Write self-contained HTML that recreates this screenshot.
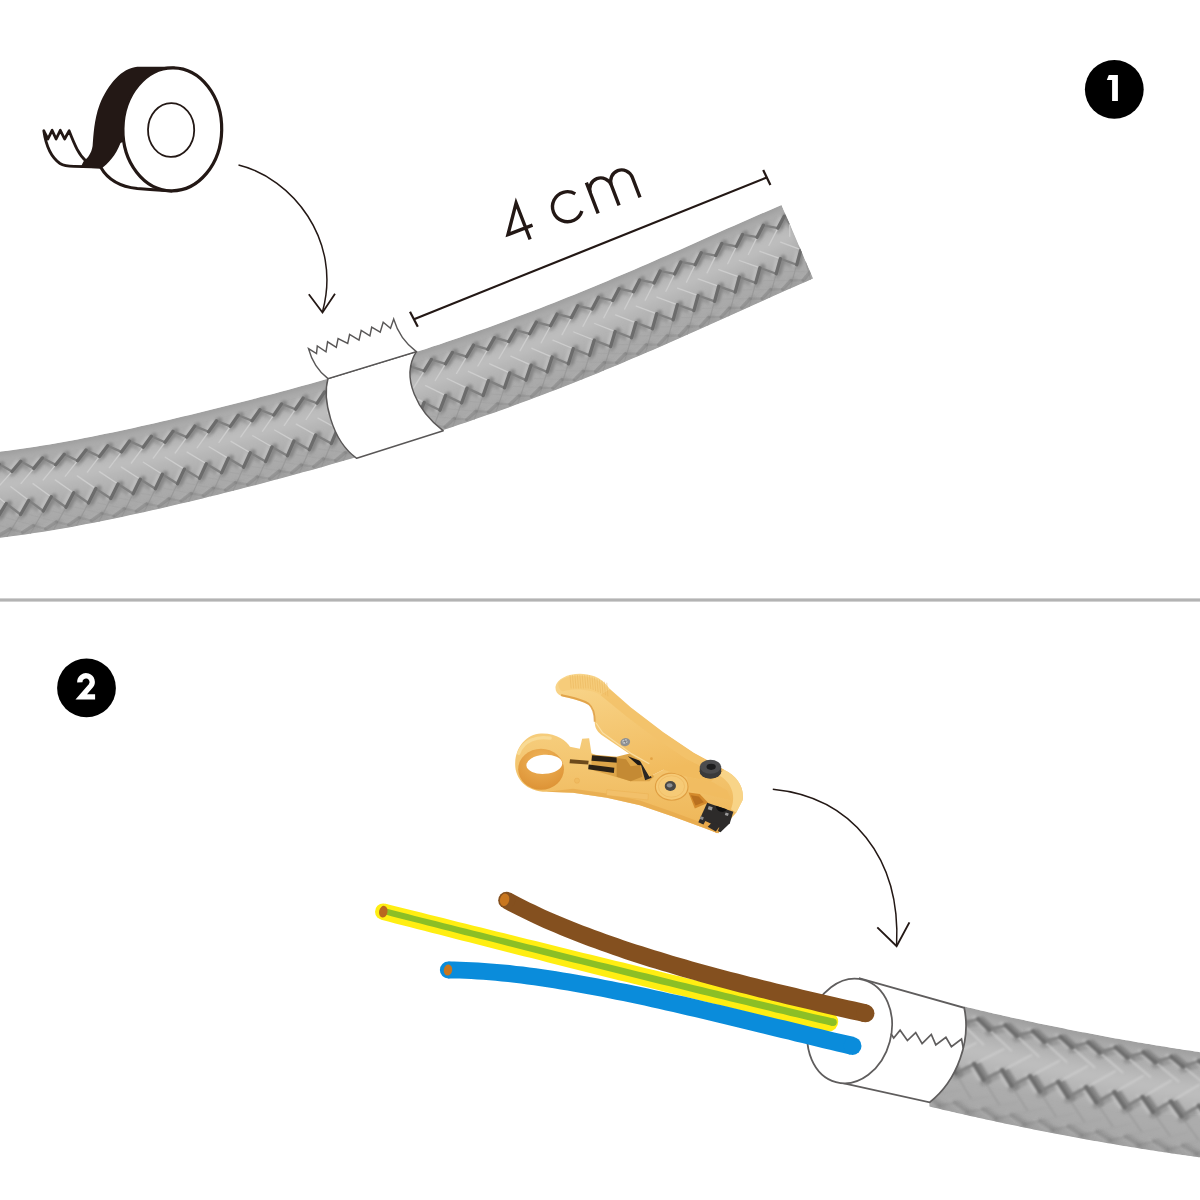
<!DOCTYPE html>
<html><head><meta charset="utf-8"><title>Cable preparation steps</title><style>html,body{margin:0;padding:0;background:#fff;font-family:"Liberation Sans",sans-serif}svg{display:block}</style></head><body><svg width="1200" height="1200" viewBox="0 0 1200 1200" role="img" aria-label="Step 1: wrap tape 4 cm from the cable end. Step 2: strip the sheath to expose the wires."><filter id="blur_c1" x="-5%" y="-20%" width="110%" height="140%"><feGaussianBlur stdDeviation="3.7"/></filter><filter id="blur2_c1" x="-5%" y="-20%" width="110%" height="140%"><feGaussianBlur stdDeviation="1.45"/></filter><filter id="blur3_c1" x="-5%" y="-20%" width="110%" height="140%"><feGaussianBlur stdDeviation="0.54"/></filter><filter id="blur4_c1" x="-5%" y="-20%" width="110%" height="140%"><feGaussianBlur stdDeviation="0.70"/></filter><clipPath id="clip_c1"><path d="M-33.5,455.1 L-26.6,454.6 L-19.7,453.9 L-12.8,453.2 L-5.9,452.5 L1.0,451.6 L7.9,450.8 L14.8,449.8 L21.8,448.8 L28.7,447.8 L35.7,446.7 L42.7,445.6 L49.7,444.4 L56.6,443.2 L63.6,442.0 L70.6,440.7 L77.6,439.4 L84.6,438.1 L91.6,436.7 L98.6,435.3 L105.7,433.8 L112.7,432.4 L119.7,430.9 L126.7,429.4 L133.7,427.9 L140.7,426.3 L147.8,424.7 L154.8,423.2 L161.8,421.6 L168.8,419.9 L175.8,418.3 L182.9,416.6 L189.9,414.9 L196.9,413.3 L203.9,411.5 L210.9,409.8 L217.9,408.1 L224.9,406.3 L231.9,404.6 L238.9,402.8 L245.9,401.0 L252.9,399.2 L259.9,397.3 L266.9,395.5 L273.9,393.7 L280.9,391.8 L287.8,389.9 L294.8,388.0 L301.8,386.1 L308.7,384.2 L315.7,382.2 L322.6,380.3 L329.5,378.3 L336.5,376.3 L343.4,374.3 L350.3,372.3 L357.2,370.2 L364.1,368.2 L371.0,366.1 L377.9,364.0 L384.8,361.9 L391.6,359.8 L398.5,357.6 L405.4,355.5 L412.2,353.3 L419.1,351.1 L425.9,348.9 L432.7,346.6 L439.5,344.4 L446.3,342.1 L453.1,339.8 L459.9,337.5 L466.7,335.1 L473.5,332.7 L480.3,330.3 L487.0,327.9 L493.8,325.5 L500.5,323.1 L507.3,320.6 L514.0,318.1 L520.7,315.6 L527.4,313.0 L534.1,310.5 L540.8,307.9 L547.5,305.3 L554.2,302.7 L560.9,300.0 L567.6,297.3 L574.3,294.7 L580.9,292.0 L587.6,289.2 L594.3,286.5 L600.9,283.7 L607.6,280.9 L614.2,278.1 L620.9,275.3 L627.5,272.5 L634.1,269.7 L640.8,266.8 L647.4,263.9 L654.1,261.0 L660.7,258.1 L667.4,255.2 L674.0,252.3 L680.7,249.4 L687.3,246.4 L694.0,243.5 L700.6,240.5 L707.3,237.5 L714.0,234.6 L720.7,231.6 L727.4,228.6 L734.1,225.7 L740.8,222.7 L747.6,219.7 L754.3,216.8 L761.1,213.8 L767.9,210.9 L774.7,207.9 L781.5,205.0 L813.1,278.5 L806.5,281.4 L799.9,284.3 L793.3,287.2 L786.7,290.1 L780.1,293.1 L773.4,296.1 L766.8,299.0 L760.2,302.0 L753.5,305.0 L746.9,308.0 L740.2,311.0 L733.6,314.0 L726.9,317.0 L720.2,320.1 L713.5,323.1 L706.8,326.1 L700.1,329.1 L693.4,332.1 L686.6,335.1 L679.9,338.1 L673.1,341.0 L666.4,344.0 L659.6,347.0 L652.8,349.9 L646.0,352.8 L639.2,355.7 L632.4,358.6 L625.6,361.5 L618.7,364.4 L611.9,367.3 L605.0,370.1 L598.2,372.9 L591.3,375.7 L584.4,378.5 L577.5,381.2 L570.6,384.0 L563.7,386.7 L556.7,389.4 L549.8,392.1 L542.8,394.7 L535.9,397.3 L528.9,400.0 L521.9,402.5 L515.0,405.1 L508.0,407.7 L501.0,410.2 L494.0,412.7 L487.0,415.1 L479.9,417.6 L472.9,420.0 L465.9,422.4 L458.8,424.8 L451.8,427.2 L444.7,429.5 L437.7,431.9 L430.6,434.2 L423.5,436.4 L416.5,438.7 L409.4,440.9 L402.3,443.2 L395.2,445.4 L388.1,447.5 L381.0,449.7 L373.9,451.9 L366.8,454.0 L359.7,456.1 L352.6,458.2 L345.5,460.2 L338.4,462.3 L331.3,464.3 L324.2,466.4 L317.1,468.4 L309.9,470.4 L302.8,472.3 L295.7,474.3 L288.5,476.2 L281.4,478.2 L274.3,480.1 L267.1,482.0 L260.0,483.9 L252.8,485.7 L245.6,487.6 L238.5,489.4 L231.3,491.3 L224.1,493.1 L217.0,494.9 L209.8,496.6 L202.6,498.4 L195.4,500.2 L188.2,501.9 L181.0,503.6 L173.8,505.3 L166.6,507.0 L159.3,508.7 L152.1,510.3 L144.8,511.9 L137.6,513.6 L130.3,515.1 L123.0,516.7 L115.7,518.2 L108.4,519.8 L101.1,521.2 L93.7,522.7 L86.4,524.1 L79.0,525.5 L71.6,526.9 L64.2,528.2 L56.8,529.5 L49.3,530.8 L41.8,532.0 L34.3,533.1 L26.8,534.3 L19.3,535.3 L11.7,536.3 L4.1,537.3 L-3.5,538.2 L-11.2,539.0 L-18.8,539.8 L-26.5,540.5Z"/></clipPath><g clip-path="url(#clip_c1)"><path d="M-33.5,455.1 L-26.6,454.6 L-19.7,453.9 L-12.8,453.2 L-5.9,452.5 L1.0,451.6 L7.9,450.8 L14.8,449.8 L21.8,448.8 L28.7,447.8 L35.7,446.7 L42.7,445.6 L49.7,444.4 L56.6,443.2 L63.6,442.0 L70.6,440.7 L77.6,439.4 L84.6,438.1 L91.6,436.7 L98.6,435.3 L105.7,433.8 L112.7,432.4 L119.7,430.9 L126.7,429.4 L133.7,427.9 L140.7,426.3 L147.8,424.7 L154.8,423.2 L161.8,421.6 L168.8,419.9 L175.8,418.3 L182.9,416.6 L189.9,414.9 L196.9,413.3 L203.9,411.5 L210.9,409.8 L217.9,408.1 L224.9,406.3 L231.9,404.6 L238.9,402.8 L245.9,401.0 L252.9,399.2 L259.9,397.3 L266.9,395.5 L273.9,393.7 L280.9,391.8 L287.8,389.9 L294.8,388.0 L301.8,386.1 L308.7,384.2 L315.7,382.2 L322.6,380.3 L329.5,378.3 L336.5,376.3 L343.4,374.3 L350.3,372.3 L357.2,370.2 L364.1,368.2 L371.0,366.1 L377.9,364.0 L384.8,361.9 L391.6,359.8 L398.5,357.6 L405.4,355.5 L412.2,353.3 L419.1,351.1 L425.9,348.9 L432.7,346.6 L439.5,344.4 L446.3,342.1 L453.1,339.8 L459.9,337.5 L466.7,335.1 L473.5,332.7 L480.3,330.3 L487.0,327.9 L493.8,325.5 L500.5,323.1 L507.3,320.6 L514.0,318.1 L520.7,315.6 L527.4,313.0 L534.1,310.5 L540.8,307.9 L547.5,305.3 L554.2,302.7 L560.9,300.0 L567.6,297.3 L574.3,294.7 L580.9,292.0 L587.6,289.2 L594.3,286.5 L600.9,283.7 L607.6,280.9 L614.2,278.1 L620.9,275.3 L627.5,272.5 L634.1,269.7 L640.8,266.8 L647.4,263.9 L654.1,261.0 L660.7,258.1 L667.4,255.2 L674.0,252.3 L680.7,249.4 L687.3,246.4 L694.0,243.5 L700.6,240.5 L707.3,237.5 L714.0,234.6 L720.7,231.6 L727.4,228.6 L734.1,225.7 L740.8,222.7 L747.6,219.7 L754.3,216.8 L761.1,213.8 L767.9,210.9 L774.7,207.9 L781.5,205.0 L813.1,278.5 L806.5,281.4 L799.9,284.3 L793.3,287.2 L786.7,290.1 L780.1,293.1 L773.4,296.1 L766.8,299.0 L760.2,302.0 L753.5,305.0 L746.9,308.0 L740.2,311.0 L733.6,314.0 L726.9,317.0 L720.2,320.1 L713.5,323.1 L706.8,326.1 L700.1,329.1 L693.4,332.1 L686.6,335.1 L679.9,338.1 L673.1,341.0 L666.4,344.0 L659.6,347.0 L652.8,349.9 L646.0,352.8 L639.2,355.7 L632.4,358.6 L625.6,361.5 L618.7,364.4 L611.9,367.3 L605.0,370.1 L598.2,372.9 L591.3,375.7 L584.4,378.5 L577.5,381.2 L570.6,384.0 L563.7,386.7 L556.7,389.4 L549.8,392.1 L542.8,394.7 L535.9,397.3 L528.9,400.0 L521.9,402.5 L515.0,405.1 L508.0,407.7 L501.0,410.2 L494.0,412.7 L487.0,415.1 L479.9,417.6 L472.9,420.0 L465.9,422.4 L458.8,424.8 L451.8,427.2 L444.7,429.5 L437.7,431.9 L430.6,434.2 L423.5,436.4 L416.5,438.7 L409.4,440.9 L402.3,443.2 L395.2,445.4 L388.1,447.5 L381.0,449.7 L373.9,451.9 L366.8,454.0 L359.7,456.1 L352.6,458.2 L345.5,460.2 L338.4,462.3 L331.3,464.3 L324.2,466.4 L317.1,468.4 L309.9,470.4 L302.8,472.3 L295.7,474.3 L288.5,476.2 L281.4,478.2 L274.3,480.1 L267.1,482.0 L260.0,483.9 L252.8,485.7 L245.6,487.6 L238.5,489.4 L231.3,491.3 L224.1,493.1 L217.0,494.9 L209.8,496.6 L202.6,498.4 L195.4,500.2 L188.2,501.9 L181.0,503.6 L173.8,505.3 L166.6,507.0 L159.3,508.7 L152.1,510.3 L144.8,511.9 L137.6,513.6 L130.3,515.1 L123.0,516.7 L115.7,518.2 L108.4,519.8 L101.1,521.2 L93.7,522.7 L86.4,524.1 L79.0,525.5 L71.6,526.9 L64.2,528.2 L56.8,529.5 L49.3,530.8 L41.8,532.0 L34.3,533.1 L26.8,534.3 L19.3,535.3 L11.7,536.3 L4.1,537.3 L-3.5,538.2 L-11.2,539.0 L-18.8,539.8 L-26.5,540.5Z" fill="#acacac"/><path d="M-30.5,491.4 L-23.3,490.8 L-16.1,490.1 L-8.9,489.3 L-1.7,488.5 L5.5,487.6 L12.7,486.7 L19.9,485.7 L27.1,484.7 L34.3,483.6 L41.5,482.4 L48.7,481.3 L55.8,480.0 L63.0,478.8 L70.2,477.5 L77.3,476.2 L84.5,474.8 L91.6,473.4 L98.8,472.0 L105.9,470.5 L113.0,469.1 L120.2,467.6 L127.3,466.0 L134.4,464.5 L141.5,462.9 L148.6,461.3 L155.8,459.7 L162.9,458.1 L170.0,456.4 L177.1,454.8 L184.2,453.1 L191.3,451.4 L198.3,449.7 L205.4,447.9 L212.5,446.2 L219.6,444.4 L226.7,442.7 L233.7,440.9 L240.8,439.1 L247.9,437.2 L254.9,435.4 L262.0,433.6 L269.0,431.7 L276.1,429.8 L283.1,427.9 L290.2,426.0 L297.2,424.1 L304.3,422.2 L311.3,420.2 L318.3,418.2 L325.3,416.3 L332.3,414.3 L339.4,412.2 L346.4,410.2 L353.4,408.2 L360.4,406.1 L367.3,404.0 L374.3,401.9 L381.3,399.8 L388.3,397.7 L395.2,395.5 L402.2,393.3 L409.2,391.1 L416.1,388.9 L423.0,386.7 L430.0,384.4 L436.9,382.2 L443.8,379.9 L450.7,377.5 L457.6,375.2 L464.5,372.9 L471.4,370.5 L478.3,368.1 L485.2,365.6 L492.0,363.2 L498.9,360.7 L505.8,358.2 L512.6,355.7 L519.4,353.2 L526.3,350.7 L533.1,348.1 L539.9,345.5 L546.7,342.9 L553.5,340.2 L560.3,337.6 L567.1,334.9 L573.8,332.2 L580.6,329.5 L587.3,326.7 L594.1,324.0 L600.8,321.2 L607.6,318.4 L614.3,315.6 L621.0,312.7 L627.7,309.9 L634.4,307.0 L641.1,304.1 L647.8,301.3 L654.5,298.3 L661.2,295.4 L667.9,292.5 L674.6,289.6 L681.3,286.6 L687.9,283.7 L694.6,280.7 L701.3,277.7 L708.0,274.7 L714.6,271.8 L721.3,268.8 L728.0,265.8 L734.6,262.8 L741.3,259.8 L748.0,256.8 L754.7,253.9 L761.4,250.9 L768.1,248.0 L774.8,245.0 L781.5,242.1 L788.2,239.2 L794.9,236.3" fill="none" stroke="#b6b6b6" stroke-width="33.1" stroke-opacity="0.90" filter="url(#blur_c1)"/><path d="M-30.8,488.4 L-23.6,487.8 L-16.4,487.1 L-9.2,486.4 L-2.0,485.5 L5.2,484.7 L12.3,483.7 L19.5,482.8 L26.7,481.7 L33.8,480.6 L41.0,479.5 L48.2,478.3 L55.3,477.1 L62.5,475.9 L69.6,474.6 L76.8,473.2 L83.9,471.9 L91.0,470.5 L98.2,469.1 L105.3,467.6 L112.4,466.2 L119.5,464.7 L126.7,463.1 L133.8,461.6 L140.9,460.0 L148.0,458.4 L155.1,456.8 L162.2,455.2 L169.3,453.6 L176.4,451.9 L183.5,450.2 L190.6,448.5 L197.6,446.8 L204.7,445.1 L211.8,443.3 L218.9,441.6 L225.9,439.8 L233.0,438.0 L240.1,436.2 L247.1,434.4 L254.2,432.6 L261.2,430.7 L268.3,428.9 L275.3,427.0 L282.4,425.1 L289.4,423.2 L296.4,421.3 L303.5,419.3 L310.5,417.4 L317.5,415.4 L324.5,413.5 L331.5,411.5 L338.5,409.4 L345.5,407.4 L352.5,405.4 L359.5,403.3 L366.5,401.2 L373.5,399.1 L380.5,397.0 L387.4,394.9 L394.4,392.7 L401.3,390.6 L408.3,388.4 L415.2,386.2 L422.1,383.9 L429.1,381.7 L436.0,379.4 L442.9,377.1 L449.8,374.8 L456.7,372.5 L463.6,370.1 L470.5,367.8 L477.3,365.4 L484.2,362.9 L491.1,360.5 L497.9,358.0 L504.8,355.6 L511.6,353.0 L518.4,350.5 L525.2,348.0 L532.1,345.4 L538.9,342.8 L545.7,340.2 L552.4,337.6 L559.2,334.9 L566.0,332.2 L572.8,329.5 L579.5,326.8 L586.3,324.1 L593.0,321.3 L599.7,318.5 L606.5,315.8 L613.2,312.9 L619.9,310.1 L626.6,307.3 L633.3,304.4 L640.0,301.5 L646.7,298.7 L653.4,295.7 L660.1,292.8 L666.8,289.9 L673.5,287.0 L680.1,284.0 L686.8,281.1 L693.5,278.1 L700.1,275.1 L706.8,272.2 L713.5,269.2 L720.2,266.2 L726.8,263.2 L733.5,260.2 L740.2,257.3 L746.9,254.3 L753.5,251.3 L760.2,248.3 L766.9,245.4 L773.6,242.4 L780.4,239.5 L787.1,236.6 L793.8,233.7" fill="none" stroke="#c0c0c0" stroke-width="13.2" stroke-opacity="0.75" filter="url(#blur_c1)"/><path d="M-27.2,531.9 L-19.6,531.3 L-12.0,530.5 L-4.4,529.7 L3.1,528.8 L10.6,527.9 L18.1,526.9 L25.6,525.8 L33.1,524.7 L40.5,523.6 L47.9,522.4 L55.3,521.1 L62.7,519.8 L70.1,518.5 L77.5,517.2 L84.8,515.8 L92.1,514.4 L99.4,512.9 L106.7,511.4 L114.0,509.9 L121.3,508.4 L128.5,506.9 L135.8,505.3 L143.0,503.7 L150.2,502.1 L157.5,500.4 L164.7,498.8 L171.9,497.1 L179.1,495.4 L186.3,493.7 L193.5,492.0 L200.6,490.2 L207.8,488.5 L215.0,486.7 L222.1,484.9 L229.3,483.1 L236.4,481.3 L243.6,479.5 L250.7,477.6 L257.9,475.8 L265.0,473.9 L272.1,472.0 L279.2,470.1 L286.4,468.2 L293.5,466.2 L300.6,464.3 L307.7,462.3 L314.8,460.3 L321.9,458.3 L329.0,456.3 L336.1,454.3 L343.2,452.3 L350.3,450.2 L357.4,448.1 L364.5,446.0 L371.6,443.9 L378.7,441.8 L385.7,439.6 L392.8,437.4 L399.9,435.3 L406.9,433.0 L414.0,430.8 L421.0,428.6 L428.1,426.3 L435.1,424.0 L442.2,421.7 L449.2,419.4 L456.2,417.0 L463.2,414.6 L470.3,412.2 L477.3,409.8 L484.3,407.4 L491.2,404.9 L498.2,402.4 L505.2,399.9 L512.2,397.4 L519.1,394.8 L526.1,392.3 L533.0,389.7 L540.0,387.1 L546.9,384.4 L553.8,381.8 L560.7,379.1 L567.6,376.4 L574.5,373.6 L581.4,370.9 L588.2,368.1 L595.1,365.3 L602.0,362.5 L608.8,359.7 L615.6,356.9 L622.4,354.0 L629.3,351.2 L636.1,348.3 L642.8,345.4 L649.6,342.4 L656.4,339.5 L663.2,336.6 L669.9,333.6 L676.7,330.6 L683.4,327.7 L690.1,324.7 L696.8,321.7 L703.5,318.7 L710.2,315.7 L716.9,312.7 L723.6,309.7 L730.3,306.7 L736.9,303.7 L743.6,300.7 L750.3,297.7 L756.9,294.7 L763.5,291.7 L770.2,288.7 L776.8,285.8 L783.4,282.8 L790.1,279.9 L796.7,276.9 L803.3,274.1 L809.9,271.2" fill="none" stroke="#a8a8a8" stroke-width="16.6" stroke-opacity="0.90" filter="url(#blur_c1)"/><path d="M-33.5,454.7 L-26.6,454.1 L-19.8,453.5 L-12.9,452.8 L-6.0,452.0 L0.9,451.2 L7.8,450.3 L14.8,449.4 L21.7,448.4 L28.7,447.4 L35.6,446.3 L42.6,445.2 L49.6,444.0 L56.6,442.8 L63.6,441.6 L70.5,440.3 L77.5,439.0 L84.5,437.6 L91.5,436.3 L98.6,434.9 L105.6,433.4 L112.6,432.0 L119.6,430.5 L126.6,429.0 L133.6,427.5 L140.7,425.9 L147.7,424.3 L154.7,422.7 L161.7,421.1 L168.7,419.5 L175.7,417.9 L182.8,416.2 L189.8,414.5 L196.8,412.8 L203.8,411.1 L210.8,409.4 L217.8,407.7 L224.8,405.9 L231.8,404.2 L238.8,402.4 L245.8,400.6 L252.8,398.8 L259.8,396.9 L266.8,395.1 L273.8,393.2 L280.8,391.4 L287.7,389.5 L294.7,387.6 L301.6,385.7 L308.6,383.8 L315.5,381.8 L322.5,379.9 L329.4,377.9 L336.3,375.9 L343.3,373.9 L350.2,371.9 L357.1,369.8 L364.0,367.8 L370.9,365.7 L377.8,363.6 L384.7,361.5 L391.5,359.4 L398.4,357.3 L405.2,355.1 L412.1,352.9 L418.9,350.7 L425.8,348.5 L432.6,346.2 L439.4,344.0 L446.2,341.7 L453.0,339.4 L459.8,337.1 L466.6,334.7 L473.4,332.4 L480.1,330.0 L486.9,327.6 L493.6,325.1 L500.4,322.7 L507.1,320.2 L513.9,317.7 L520.6,315.2 L527.3,312.6 L534.0,310.1 L540.7,307.5 L547.4,304.9 L554.1,302.3 L560.8,299.6 L567.4,297.0 L574.1,294.3 L580.8,291.6 L587.4,288.9 L594.1,286.1 L600.8,283.4 L607.4,280.6 L614.1,277.8 L620.7,275.0 L627.3,272.1 L634.0,269.3 L640.6,266.4 L647.3,263.5 L653.9,260.7 L660.6,257.8 L667.2,254.8 L673.8,251.9 L680.5,249.0 L687.1,246.0 L693.8,243.1 L700.5,240.1 L707.2,237.2 L713.8,234.2 L720.5,231.2 L727.2,228.3 L733.9,225.3 L740.7,222.3 L747.4,219.4 L754.2,216.4 L760.9,213.4 L767.7,210.5 L774.5,207.6 L781.4,204.7" fill="none" stroke="#8a8a8a" stroke-width="3.7" stroke-opacity="0.90" filter="url(#blur_c1)"/><path d="M-26.4,541.7 L-18.7,541.0 L-11.0,540.3 L-3.4,539.5 L4.3,538.6 L11.9,537.6 L19.4,536.6 L27.0,535.5 L34.5,534.4 L42.0,533.2 L49.5,532.0 L57.0,530.8 L64.4,529.5 L71.8,528.1 L79.2,526.8 L86.6,525.4 L94.0,524.0 L101.3,522.5 L108.6,521.0 L116.0,519.5 L123.3,517.9 L130.6,516.4 L137.8,514.8 L145.1,513.2 L152.4,511.6 L159.6,509.9 L166.8,508.2 L174.1,506.6 L181.3,504.9 L188.5,503.1 L195.7,501.4 L202.9,499.6 L210.1,497.9 L217.3,496.1 L224.5,494.3 L231.6,492.5 L238.8,490.6 L246.0,488.8 L253.1,486.9 L260.3,485.1 L267.4,483.2 L274.6,481.3 L281.7,479.4 L288.9,477.4 L296.0,475.5 L303.1,473.5 L310.3,471.6 L317.4,469.6 L324.5,467.6 L331.6,465.5 L338.8,463.5 L345.9,461.4 L353.0,459.4 L360.1,457.3 L367.2,455.2 L374.3,453.0 L381.4,450.9 L388.5,448.7 L395.6,446.6 L402.7,444.4 L409.8,442.1 L416.8,439.9 L423.9,437.6 L431.0,435.3 L438.1,433.0 L445.1,430.7 L452.2,428.4 L459.2,426.0 L466.3,423.6 L473.3,421.2 L480.3,418.8 L487.4,416.3 L494.4,413.8 L501.4,411.3 L508.4,408.8 L515.4,406.3 L522.4,403.7 L529.3,401.1 L536.3,398.5 L543.3,395.9 L550.2,393.2 L557.2,390.5 L564.1,387.8 L571.0,385.1 L577.9,382.4 L584.8,379.6 L591.7,376.8 L598.6,374.0 L605.5,371.2 L612.4,368.4 L619.2,365.5 L626.0,362.7 L632.9,359.8 L639.7,356.9 L646.5,354.0 L653.3,351.0 L660.1,348.1 L666.9,345.1 L673.6,342.2 L680.4,339.2 L687.1,336.2 L693.9,333.2 L700.6,330.2 L707.3,327.2 L714.0,324.2 L720.7,321.2 L727.4,318.2 L734.1,315.1 L740.7,312.1 L747.4,309.1 L754.0,306.1 L760.7,303.1 L767.3,300.1 L773.9,297.2 L780.6,294.2 L787.2,291.2 L793.8,288.3 L800.4,285.4 L807.0,282.5 L813.6,279.6" fill="none" stroke="#8a8a8a" stroke-width="2.9" stroke-opacity="0.90" filter="url(#blur_c1)"/><path d="M-26.5,540.5 L-26.3,521.1 M-16.7,539.6 L-3.2,518.8 M6.9,536.9 L19.7,515.9 M30.3,533.8 L42.5,512.5 M53.4,530.1 L65.2,508.6 M76.3,526.0 L87.7,504.4 M99.0,521.7 L110.1,499.9 M121.6,517.0 L132.4,495.2 M144.1,512.1 L154.7,490.3 M166.4,507.0 L176.8,485.1 M188.7,501.8 L198.9,479.8 M210.9,496.4 L221.0,474.4 M233.1,490.8 L243.0,468.8 M255.2,485.1 L265.0,463.1 M277.2,479.3 L286.9,457.2 M299.3,473.3 L308.8,451.2 M321.3,467.2 L330.7,445.0 M343.3,460.9 L352.5,438.7 M365.2,454.5 L374.3,432.2 M387.1,447.9 L396.1,425.6 M409.0,441.1 L417.8,418.8 M430.8,434.1 L439.4,411.7 M452.6,426.9 L461.0,404.5 M474.3,419.5 L482.6,397.1 M496.0,411.9 L504.0,389.4 M517.6,404.1 L525.4,381.6 M539.1,396.1 L546.7,373.5 M560.6,387.9 L567.9,365.3 M581.9,379.5 L589.1,356.8 M603.2,370.9 L610.1,348.2 M624.3,362.1 L631.1,339.3 M645.4,353.1 L652.0,330.4 M666.3,344.0 L672.8,321.3 M687.2,334.9 L693.5,312.1 M707.9,325.6 L714.1,302.9 M728.6,316.3 L734.7,293.6 M749.1,307.0 L755.3,284.4 M769.6,297.8 L775.8,275.2 M790.1,288.6 L796.3,266.2 M810.4,279.7 L806.0,262.0" fill="none" stroke="#9b9b9b" stroke-width="1.24" stroke-opacity="1.00" stroke-linecap="round" filter="url(#blur4_c1)"/><path d="M-28.1,521.5 L-14.3,531.1 M-16.5,520.5 L9.1,528.4 M6.6,517.9 L32.2,525.2 M29.5,514.7 L55.1,521.5 M52.2,511.1 L77.9,517.4 M74.8,507.1 L100.5,513.1 M97.3,502.8 L122.9,508.4 M119.6,498.2 L145.3,503.5 M141.9,493.4 L167.6,498.4 M164.1,488.3 L189.8,493.2 M186.3,483.1 L212.0,487.8 M208.3,477.8 L234.1,482.2 M230.4,472.3 L256.1,476.6 M252.4,466.6 L278.1,470.7 M274.3,460.8 L300.1,464.8 M296.3,454.9 L322.1,458.6 M318.2,448.8 L344.0,452.4 M340.0,442.6 L365.9,445.9 M361.8,436.2 L387.7,439.4 M383.6,429.7 L409.5,432.6 M405.3,423.0 L431.3,425.6 M427.0,416.0 L453.0,418.4 M448.7,408.9 L474.7,411.1 M470.2,401.6 L496.3,403.5 M491.7,394.1 L517.8,395.7 M513.2,386.4 L539.2,387.7 M534.5,378.4 L560.6,379.5 M555.8,370.3 L581.9,371.1 M577.0,361.9 L603.0,362.5 M598.1,353.4 L624.1,353.7 M619.1,344.7 L645.1,344.7 M640.1,335.8 L666.0,335.7 M660.9,326.8 L686.8,326.5 M681.7,317.6 L707.5,317.3 M702.4,308.4 L728.2,308.0 M723.0,299.2 L748.7,298.7 M743.6,289.9 L769.2,289.5 M764.1,280.7 L789.7,280.4 M784.6,271.6 L810.1,271.5 M805.1,262.6 L810.1,271.5" fill="none" stroke="#9b9b9b" stroke-width="1.24" stroke-opacity="0.30" stroke-linecap="round" filter="url(#blur4_c1)"/><path d="M-32.3,469.9 L-31.5,478.8 M-22.3,469.0 L-9.6,476.7 M-0.6,466.7 L12.3,474.1 M21.1,463.8 L34.2,470.9 M42.9,460.4 L56.2,467.3 M64.6,456.7 L78.1,463.3 M86.4,452.6 L100.0,459.0 M108.2,448.2 L121.9,454.4 M130.0,443.6 L143.8,449.7 M151.8,438.8 L165.6,444.7 M173.6,433.7 L187.4,439.5 M195.4,428.5 L209.2,434.2 M217.1,423.2 L231.0,428.8 M238.8,417.7 L252.8,423.2 M260.5,412.1 L274.5,417.5 M282.1,406.4 L296.1,411.6 M303.7,400.5 L317.7,405.6 M325.3,394.4 L339.3,399.5 M346.8,388.2 L360.8,393.2 M368.2,381.9 L382.3,386.7 M389.6,375.4 L403.7,380.1 M410.9,368.7 L425.0,373.2 M432.1,361.8 L446.3,366.2 M453.2,354.7 L467.5,359.0 M474.3,347.5 L488.6,351.6 M495.3,340.0 L509.6,343.9 M516.3,332.3 L530.6,336.1 M537.1,324.4 L551.5,328.1 M557.9,316.3 L572.3,319.8 M578.7,308.0 L593.1,311.4 M599.3,299.6 L613.8,302.8 M619.9,290.9 L634.4,294.0 M640.5,282.1 L655.0,285.1 M661.1,273.2 L675.6,276.1 M681.7,264.1 L696.2,266.9 M702.2,255.0 L716.8,257.8 M722.8,245.8 L737.4,248.6 M743.5,236.7 L758.1,239.4 M764.3,227.5 L778.9,230.3 M785.2,218.5 L790.3,225.4 M-29.0,509.7 L-25.2,522.3 M-16.2,508.6 L-2.0,520.0 M6.5,506.0 L20.9,517.0 M29.1,502.9 L43.7,513.6 M51.6,499.3 L66.4,509.7 M74.0,495.4 L88.9,505.5 M96.3,491.1 L111.4,501.0 M118.6,486.5 L133.7,496.2 M140.7,481.7 L155.9,491.3 M162.8,476.7 L178.1,486.1 M184.9,471.5 L200.2,480.8 M206.9,466.2 L222.3,475.4 M228.9,460.7 L244.3,469.8 M250.8,455.1 L266.3,464.0 M272.7,449.3 L288.2,458.1 M294.5,443.4 L310.1,452.1 M316.4,437.4 L332.0,446.0 M338.2,431.2 L353.8,439.6 M359.9,424.9 L375.6,433.1 M381.6,418.3 L397.4,426.5 M403.2,411.6 L419.1,419.6 M424.8,404.8 L440.8,412.6 M446.4,397.7 L462.4,405.4 M467.8,390.4 L483.9,397.9 M489.3,382.9 L505.4,390.3 M510.6,375.3 L526.8,382.4 M531.8,367.4 L548.1,374.3 M553.0,359.3 L569.3,366.0 M574.1,351.0 L590.5,357.6 M595.1,342.5 L611.5,348.9 M616.1,333.8 L632.5,340.1 M636.9,324.9 L653.4,331.1 M657.7,316.0 L674.2,322.0 M678.4,306.9 L694.9,312.8 M699.1,297.7 L715.5,303.6 M719.7,288.5 L736.1,294.3 M740.3,279.2 L756.7,285.1 M760.8,270.0 L777.2,275.9 M781.4,260.9 L797.7,266.9" fill="none" stroke="#868686" stroke-width="5.38" stroke-opacity="0.55" stroke-linecap="round" filter="url(#blur2_c1)"/><path d="M-28.7,476.0 L-19.6,466.2 M-6.9,473.9 L2.0,463.8 M15.0,471.1 L23.7,460.8 M36.8,467.9 L45.4,457.4 M58.7,464.2 L67.2,453.6 M80.6,460.2 L88.9,449.5 M102.5,455.9 L110.7,445.1 M124.4,451.3 L132.5,440.5 M146.2,446.5 L154.3,435.6 M168.0,441.5 L176.0,430.6 M189.8,436.4 L197.8,425.4 M211.6,431.1 L219.5,420.0 M233.4,425.6 L241.2,414.5 M255.1,420.0 L262.8,408.9 M276.8,414.3 L284.5,403.1 M298.4,408.4 L306.0,397.2 M320.0,402.4 L327.5,391.2 M341.6,396.2 L349.0,385.0 M363.1,389.9 L370.4,378.6 M384.5,383.4 L391.8,372.1 M405.9,376.8 L413.0,365.4 M427.2,369.9 L434.2,358.5 M448.4,362.9 L455.4,351.4 M469.6,355.7 L476.4,344.1 M490.7,348.2 L497.4,336.6 M511.7,340.6 L518.3,328.9 M532.6,332.7 L539.1,321.0 M553.5,324.7 L559.9,312.9 M574.3,316.4 L580.6,304.6 M595.0,308.0 L601.2,296.1 M615.7,299.3 L621.8,287.5 M636.3,290.6 L642.4,278.7 M656.9,281.6 L662.9,269.7 M677.5,272.6 L683.5,260.7 M698.1,263.5 L704.1,251.5 M718.7,254.3 L724.7,242.4 M739.3,245.1 L745.4,233.2 M760.0,236.0 L766.2,224.1 M780.8,226.9 L786.0,215.5 M-22.2,519.5 L-13.4,505.7 M0.8,517.0 L9.3,503.1 M23.7,514.0 L31.8,499.9 M46.5,510.5 L54.3,496.3 M69.1,506.6 L76.6,492.3 M91.5,502.4 L98.9,488.0 M113.9,497.8 L121.1,483.4 M136.2,493.1 L143.2,478.5 M158.4,488.1 L165.3,473.5 M180.5,482.9 L187.3,468.3 M202.6,477.6 L209.3,463.0 M224.7,472.2 L231.3,457.5 M246.7,466.5 L253.2,451.9 M268.6,460.8 L275.1,446.1 M290.6,454.9 L296.9,440.2 M312.4,448.9 L318.7,434.1 M334.3,442.7 L340.5,427.9 M356.1,436.4 L362.2,421.6 M377.9,429.9 L383.8,415.1 M399.6,423.2 L405.5,408.3 M421.3,416.3 L427.0,401.5 M443.0,409.3 L448.5,394.4 M464.5,402.0 L470.0,387.1 M486.1,394.5 L491.4,379.6 M507.5,386.9 L512.7,371.9 M528.9,379.0 L533.9,364.0 M550.1,370.9 L555.0,355.8 M571.3,362.6 L576.1,347.5 M592.5,354.1 L597.1,339.0 M613.5,345.4 L618.0,330.3 M634.4,336.6 L638.8,321.5 M655.3,327.6 L659.6,312.5 M676.0,318.5 L680.3,303.4 M696.8,309.3 L700.9,294.2 M717.4,300.1 L721.5,285.0 M738.0,290.8 L742.1,275.8 M758.5,281.6 L762.7,266.6 M779.1,272.5 L783.3,257.5 M799.6,263.5 L800.8,249.9" fill="none" stroke="#868686" stroke-width="5.38" stroke-opacity="1.00" stroke-linecap="round" filter="url(#blur2_c1)"/><path d="M-27.0,535.3 L-24.2,540.3 M-12.8,534.0 L-0.5,537.8 M10.6,531.3 L22.9,534.8 M33.8,528.1 L46.1,531.3 M56.8,524.3 L69.1,527.4 M79.5,520.2 L91.8,523.1 M102.2,515.8 L114.5,518.5 M124.7,511.1 L137.0,513.7 M147.1,506.2 L159.4,508.7 M169.4,501.1 L181.7,503.5 M191.6,495.9 L203.9,498.1 M213.8,490.5 L226.1,492.6 M235.9,484.9 L248.2,486.9 M258.0,479.2 L270.3,481.1 M280.0,473.3 L292.3,475.2 M302.0,467.4 L314.3,469.1 M324.0,461.2 L336.3,462.9 M345.9,454.9 L358.3,456.5 M367.8,448.5 L380.2,450.0 M389.7,441.9 L402.1,443.2 M411.5,435.1 L423.9,436.3 M433.3,428.1 L445.7,429.2 M455.0,420.9 L467.5,421.9 M476.7,413.5 L489.2,414.4 M498.3,405.9 L510.8,406.6 M519.9,398.1 L532.3,398.7 M541.3,390.0 L553.8,390.5 M562.7,381.8 L575.2,382.2 M584.0,373.4 L596.5,373.6 M605.2,364.7 L617.6,364.9 M626.3,355.9 L638.7,356.0 M647.3,347.0 L659.7,346.9 M668.2,337.9 L680.6,337.8 M689.0,328.7 L701.4,328.5 M709.7,319.5 L722.0,319.2 M730.4,310.2 L742.6,309.9 M750.9,300.9 L763.2,300.7 M771.4,291.7 L783.6,291.5 M791.9,282.6 L804.0,282.5" fill="none" stroke="#868686" stroke-width="5.38" stroke-opacity="0.17" stroke-linecap="round" filter="url(#blur2_c1)"/><path d="M-21.1,537.4 L-9.8,531.1 M2.4,534.9 L13.5,528.4 M25.8,531.8 L36.6,525.0 M48.9,528.3 L59.5,521.3 M71.8,524.3 L82.2,517.1 M94.5,520.0 L104.8,512.7 M117.1,515.4 L127.3,508.0 M139.5,510.5 L149.6,503.1 M161.9,505.5 L171.9,498.0 M184.2,500.3 L194.1,492.7 M206.4,494.9 L216.2,487.3 M228.5,489.4 L238.3,481.7 M250.6,483.7 L260.4,476.0 M272.7,477.9 L282.4,470.1 M294.7,472.0 L304.4,464.1 M316.7,465.9 L326.3,458.0 M338.7,459.6 L348.2,451.7 M360.6,453.2 L370.1,445.2 M382.5,446.7 L392.0,438.6 M404.4,439.9 L413.8,431.8 M426.2,433.0 L435.5,424.7 M447.9,425.9 L457.2,417.5 M469.7,418.5 L478.9,410.1 M491.3,411.0 L500.5,402.5 M512.9,403.2 L522.0,394.7 M534.4,395.3 L543.4,386.6 M555.9,387.1 L564.8,378.4 M577.2,378.7 L586.0,369.9 M598.5,370.1 L607.2,361.3 M619.6,361.4 L628.3,352.5 M640.7,352.5 L649.2,343.5 M661.6,343.4 L670.1,334.4 M682.5,334.3 L690.9,325.2 M703.2,325.0 L711.6,316.0 M723.9,315.7 L732.2,306.7 M744.5,306.5 L752.8,297.4 M765.0,297.2 L773.3,288.2 M785.5,288.1 L793.7,279.1 M805.9,279.1 L810.2,271.9" fill="none" stroke="#868686" stroke-width="5.38" stroke-opacity="0.30" stroke-linecap="round" filter="url(#blur2_c1)"/><path d="M-31.7,476.3 L-25.8,466.7 M-13.2,474.5 L-4.2,464.5 M8.6,472.0 L17.4,461.7 M30.5,468.9 L39.2,458.5 M52.4,465.3 L60.9,454.8 M74.3,461.4 L82.7,450.7 M96.2,457.2 L104.4,446.4 M118.0,452.7 L126.2,441.8 M139.9,447.9 L148.0,437.0 M161.7,443.0 L169.7,432.0 M183.5,437.9 L191.5,426.9 M205.3,432.6 L213.2,421.6 M227.1,427.2 L234.9,416.1 M248.8,421.6 L256.6,410.5 M270.5,415.9 L278.2,404.8 M292.2,410.1 L299.8,399.0 M313.8,404.2 L321.3,393.0 M335.4,398.0 L342.8,386.8 M356.9,391.8 L364.2,380.5 M378.3,385.3 L385.6,374.0 M399.7,378.7 L406.9,367.4 M421.0,371.9 L428.1,360.5 M442.3,364.9 L449.3,353.5 M463.5,357.8 L470.3,346.3 M484.6,350.4 L491.3,338.8 M505.6,342.8 L512.3,331.2 M526.6,335.0 L533.1,323.3 M547.5,327.0 L553.9,315.3 M568.3,318.8 L574.6,307.0 M589.0,310.4 L595.3,298.6 M609.7,301.8 L615.9,290.0 M630.4,293.1 L636.5,281.2 M651.0,284.2 L657.0,272.3 M671.5,275.2 L677.6,263.3 M692.1,266.1 L698.1,254.2 M712.7,257.0 L718.7,245.0 M733.3,247.8 L739.4,235.8 M754.0,238.6 L760.1,226.7 M774.8,229.5 L781.0,217.6 M-28.2,520.0 L-19.9,506.4 M-5.8,517.8 L2.7,503.9 M17.1,515.0 L25.3,500.9 M39.9,511.6 L47.8,497.4 M62.5,507.8 L70.2,493.5 M85.1,503.6 L92.5,489.2 M107.5,499.2 L114.7,484.7 M129.8,494.5 L136.8,480.0 M152.0,489.6 L158.9,475.0 M174.2,484.4 L181.0,469.9 M196.3,479.2 L203.0,464.5 M218.3,473.7 L224.9,459.1 M240.3,468.2 L246.9,453.5 M262.3,462.5 L268.7,447.8 M284.2,456.6 L290.6,441.9 M306.1,450.6 L312.4,435.9 M328.0,444.5 L334.2,429.7 M349.8,438.2 L355.9,423.4 M371.6,431.8 L377.6,417.0 M393.4,425.1 L399.2,410.3 M415.1,418.3 L420.8,403.5 M436.7,411.3 L442.3,396.4 M458.3,404.1 L463.8,389.2 M479.8,396.7 L485.2,381.8 M501.3,389.1 L506.5,374.1 M522.7,381.3 L527.8,366.3 M544.0,373.3 L548.9,358.2 M565.2,365.0 L570.0,349.9 M586.4,356.6 L591.0,341.5 M607.4,348.0 L612.0,332.9 M628.4,339.2 L632.8,324.1 M649.3,330.2 L653.6,315.1 M670.1,321.2 L674.3,306.0 M690.8,312.0 L695.0,296.9 M711.4,302.8 L715.6,287.7 M732.0,293.5 L736.2,278.4 M752.6,284.3 L756.7,269.2 M773.1,275.1 L777.3,260.1 M793.7,266.0 L797.9,251.1" fill="none" stroke="#c6c6c6" stroke-width="3.52" stroke-opacity="0.80" stroke-linecap="round" filter="url(#blur2_c1)"/><path d="M-26.8,537.9 L-16.6,531.8 M-4.3,535.7 L6.8,529.2 M19.0,532.8 L29.9,526.0 M42.2,529.3 L52.9,522.4 M65.2,525.5 L75.6,518.4 M87.9,521.2 L98.3,514.0 M110.6,516.7 L120.8,509.4 M133.0,511.9 L143.2,504.5 M155.4,507.0 L165.5,499.5 M177.7,501.8 L187.7,494.2 M200.0,496.5 L209.8,488.8 M222.1,491.0 L231.9,483.3 M244.2,485.4 L254.0,477.6 M266.3,479.6 L276.0,471.8 M288.3,473.7 L298.0,465.9 M310.3,467.6 L320.0,459.8 M332.3,461.5 L341.9,453.5 M354.2,455.1 L363.8,447.1 M376.2,448.6 L385.7,440.5 M398.0,441.9 L407.5,433.7 M419.9,435.0 L429.3,426.8 M441.7,427.9 L451.0,419.6 M463.4,420.7 L472.6,412.3 M485.1,413.2 L494.3,404.7 M506.7,405.5 L515.8,396.9 M528.2,397.6 L537.2,389.0 M549.7,389.5 L558.6,380.8 M571.1,381.2 L579.9,372.4 M592.3,372.6 L601.1,363.8 M613.5,363.9 L622.2,355.0 M634.6,355.1 L643.2,346.1 M655.6,346.1 L664.1,337.0 M676.4,336.9 L684.9,327.9 M697.2,327.7 L705.6,318.6 M717.9,318.4 L726.3,309.4 M738.5,309.1 L746.8,300.1 M759.1,299.9 L767.4,290.9 M779.5,290.7 L787.8,281.7 M800.0,281.6 L808.3,272.8" fill="none" stroke="#c6c6c6" stroke-width="3.52" stroke-opacity="0.24" stroke-linecap="round" filter="url(#blur2_c1)"/><path d="M-23.3,488.6 L-11.3,475.7 M-1.1,486.3 L10.6,473.1 M21.1,483.4 L32.5,469.9 M43.2,480.0 L54.4,466.3 M65.3,476.2 L76.3,462.4 M87.4,472.1 L98.2,458.1 M109.4,467.6 L120.1,453.6 M131.4,463.0 L142.0,448.8 M153.3,458.1 L163.8,443.9 M175.2,453.0 L185.7,438.7 M197.1,447.8 L207.5,433.4 M219.0,442.4 L229.2,428.0 M240.8,436.9 L251.0,422.4 M262.6,431.2 L272.7,416.7 M284.3,425.4 L294.3,410.9 M306.1,419.5 L315.9,404.9 M327.7,413.4 L337.5,398.8 M349.3,407.2 L359.0,392.5 M370.9,400.8 L380.5,386.0 M392.4,394.2 L401.9,379.4 M413.9,387.4 L423.2,372.6 M435.3,380.5 L444.4,365.6 M456.6,373.4 L465.6,358.4 M477.9,366.0 L486.7,351.0 M499.0,358.5 L507.8,343.4 M520.1,350.7 L528.7,335.6 M541.2,342.8 L549.6,327.5 M562.1,334.6 L570.5,319.3 M583.0,326.3 L591.2,310.9 M603.8,317.7 L611.9,302.3 M624.6,309.0 L632.6,293.6 M645.2,300.2 L653.2,284.7 M665.9,291.2 L673.7,275.6 M686.5,282.1 L694.3,266.5 M707.1,272.9 L714.9,257.4 M727.7,263.7 L735.5,248.2 M748.3,254.5 L756.2,239.0 M769.0,245.3 L777.0,229.9 M789.7,236.3 L789.8,224.4 M-30.5,491.2 L-17.9,504.9 M-11.4,489.4 L4.7,502.4 M10.9,486.7 L27.3,499.3 M33.0,483.6 L49.7,495.8 M55.2,479.9 L72.1,491.8 M77.3,475.9 L94.3,487.6 M99.4,471.6 L116.5,483.0 M121.4,467.1 L138.7,478.3 M143.4,462.3 L160.8,473.3 M165.3,457.3 L182.8,468.1 M187.2,452.1 L204.8,462.8 M209.1,446.8 L226.7,457.4 M231.0,441.4 L248.6,451.8 M252.8,435.7 L270.5,446.0 M274.6,430.0 L292.3,440.1 M296.3,424.1 L314.1,434.1 M318.0,418.1 L335.9,428.0 M339.7,411.9 L357.6,421.6 M361.3,405.6 L379.3,415.1 M382.8,399.1 L400.9,408.5 M404.3,392.4 L422.5,401.6 M425.7,385.6 L444.0,394.6 M447.1,378.5 L465.4,387.3 M468.4,371.3 L486.8,379.9 M489.7,363.8 L508.1,372.2 M510.8,356.2 L529.4,364.4 M531.9,348.3 L550.5,356.3 M552.9,340.2 L571.6,348.0 M573.8,332.0 L592.6,339.5 M594.7,323.5 L613.5,330.9 M615.5,314.9 L634.3,322.1 M636.2,306.1 L655.1,313.1 M656.9,297.1 L675.8,304.1 M677.5,288.1 L696.4,294.9 M698.1,278.9 L717.0,285.7 M718.7,269.7 L737.6,276.4 M739.3,260.5 L758.2,267.2 M759.9,251.3 L778.8,258.1 M780.6,242.2 L799.4,249.1" fill="none" stroke="#cdcdcd" stroke-width="1.32" stroke-opacity="1.00" stroke-linecap="round" filter="url(#blur4_c1)"/><path d="M-32.5,467.3 L-31.7,476.3 M-22.6,466.4 L-9.9,474.2 M-0.9,464.1 L12.0,471.5 M20.7,461.3 L33.8,468.4 M42.4,457.9 L55.7,464.7 M64.2,454.2 L77.6,460.8 M86.0,450.1 L99.5,456.5 M107.7,445.7 L121.4,451.9 M129.5,441.1 L143.2,447.2 M151.3,436.3 L165.0,442.2 M173.0,431.3 L186.8,437.1 M194.8,426.1 L208.6,431.8 M216.5,420.8 L230.4,426.4 M238.2,415.3 L252.1,420.8 M259.9,409.7 L273.8,415.1 M281.5,403.9 L295.5,409.2 M303.1,398.1 L317.1,403.2 M324.6,392.0 L338.6,397.1 M346.1,385.9 L360.1,390.8 M367.5,379.5 L381.6,384.3 M388.8,373.0 L402.9,377.7 M410.1,366.3 L424.3,370.9 M431.3,359.5 L445.5,363.9 M452.4,352.4 L466.7,356.7 M473.5,345.1 L487.8,349.3 M494.5,337.7 L508.8,341.6 M515.4,330.0 L529.7,333.8 M536.3,322.1 L550.6,325.8 M557.0,314.1 L571.4,317.6 M577.7,305.8 L592.2,309.1 M598.4,297.3 L612.8,300.5 M619.0,288.7 L633.5,291.8 M639.6,279.9 L654.1,282.9 M660.1,271.0 L674.7,273.9 M680.7,261.9 L695.2,264.7 M701.2,252.8 L715.8,255.6 M721.8,243.6 L736.4,246.4 M742.5,234.5 L757.1,237.2 M763.3,225.3 L777.9,228.1 M784.2,216.3 L789.3,223.2 M-29.2,507.2 L-25.4,519.7 M-16.5,506.0 L-2.3,517.4 M6.2,503.5 L20.6,514.5 M28.7,500.4 L43.3,511.0 M51.2,496.8 L66.0,507.2 M73.6,492.8 L88.5,503.0 M95.8,488.6 L110.8,498.5 M118.0,484.0 L133.1,493.7 M140.2,479.2 L155.4,488.8 M162.3,474.2 L177.5,483.7 M184.3,469.1 L199.6,478.4 M206.3,463.7 L221.6,472.9 M228.3,458.3 L243.6,467.3 M250.2,452.7 L265.6,461.6 M272.0,446.9 L287.5,455.7 M293.9,441.0 L309.4,449.7 M315.7,435.0 L331.3,443.6 M337.5,428.8 L353.1,437.2 M359.2,422.5 L374.9,430.8 M380.9,416.0 L396.7,424.1 M402.5,409.3 L418.3,417.3 M424.1,402.4 L440.0,410.2 M445.6,395.4 L461.6,403.0 M467.0,388.1 L483.1,395.6 M488.4,380.6 L504.5,387.9 M509.7,372.9 L525.9,380.1 M531.0,365.1 L547.2,372.0 M552.1,357.0 L568.4,363.8 M573.2,348.7 L589.6,355.3 M594.2,340.2 L610.6,346.6 M615.1,331.5 L631.5,337.8 M636.0,322.7 L652.4,328.9 M656.7,313.7 L673.2,319.8 M677.4,304.7 L693.9,310.6 M698.1,295.5 L714.6,301.4 M718.7,286.3 L735.2,292.1 M739.3,277.0 L755.7,282.9 M759.9,267.8 L776.2,273.7 M780.4,258.7 L796.8,264.7" fill="none" stroke="#808080" stroke-width="2.28" stroke-opacity="1.00" stroke-linecap="round" filter="url(#blur4_c1)"/><path d="M-27.2,532.8 L-24.4,537.7 M-13.1,531.5 L-0.8,535.3 M10.3,528.8 L22.6,532.3 M33.4,525.5 L45.7,528.8 M56.3,521.8 L68.6,524.8 M79.1,517.7 L91.4,520.6 M101.7,513.3 L114.0,516.0 M124.2,508.7 L136.4,511.2 M146.5,503.8 L158.8,506.2 M168.8,498.7 L181.1,501.0 M191.0,493.4 L203.3,495.6 M213.2,488.0 L225.5,490.1 M235.3,482.5 L247.6,484.5 M257.3,476.8 L269.6,478.7 M279.4,470.9 L291.7,472.8 M301.3,464.9 L313.7,466.7 M323.3,458.8 L335.6,460.5 M345.2,452.5 L357.6,454.1 M367.1,446.1 L379.5,447.6 M389.0,439.5 L401.3,440.9 M410.8,432.7 L423.2,434.0 M432.5,425.7 L445.0,426.9 M454.3,418.5 L466.7,419.6 M475.9,411.2 L488.4,412.0 M497.5,403.6 L510.0,404.3 M519.0,395.7 L531.5,396.4 M540.5,387.7 L552.9,388.2 M561.8,379.5 L574.3,379.9 M583.1,371.1 L595.5,371.3 M604.3,362.5 L616.7,362.6 M625.4,353.7 L637.8,353.7 M646.3,344.7 L658.7,344.7 M667.2,335.7 L679.6,335.5 M688.0,326.5 L700.4,326.3 M708.8,317.2 L721.1,317.0 M729.4,308.0 L741.7,307.7 M750.0,298.7 L762.2,298.5 M770.5,289.5 L782.6,289.3 M790.9,280.4 L803.0,280.3" fill="none" stroke="#808080" stroke-width="2.28" stroke-opacity="0.30" stroke-linecap="round" filter="url(#blur4_c1)"/><path d="M-31.7,476.3 L-22.6,466.4 M-9.9,474.2 L-0.9,464.1 M12.0,471.5 L20.7,461.3 M33.8,468.4 L42.4,457.9 M55.7,464.7 L64.2,454.2 M77.6,460.8 L86.0,450.1 M99.5,456.5 L107.7,445.7 M121.4,451.9 L129.5,441.1 M143.2,447.2 L151.3,436.3 M165.0,442.2 L173.0,431.3 M186.8,437.1 L194.8,426.1 M208.6,431.8 L216.5,420.8 M230.4,426.4 L238.2,415.3 M252.1,420.8 L259.9,409.7 M273.8,415.1 L281.5,403.9 M295.5,409.2 L303.1,398.1 M317.1,403.2 L324.6,392.0 M338.6,397.1 L346.1,385.9 M360.1,390.8 L367.5,379.5 M381.6,384.3 L388.8,373.0 M402.9,377.7 L410.1,366.3 M424.3,370.9 L431.3,359.5 M445.5,363.9 L452.4,352.4 M466.7,356.7 L473.5,345.1 M487.8,349.3 L494.5,337.7 M508.8,341.6 L515.4,330.0 M529.7,333.8 L536.3,322.1 M550.6,325.8 L557.0,314.1 M571.4,317.6 L577.7,305.8 M592.2,309.1 L598.4,297.3 M612.8,300.5 L619.0,288.7 M633.5,291.8 L639.6,279.9 M654.1,282.9 L660.1,271.0 M674.7,273.9 L680.7,261.9 M695.2,264.7 L701.2,252.8 M715.8,255.6 L721.8,243.6 M736.4,246.4 L742.5,234.5 M757.1,237.2 L763.3,225.3 M777.9,228.1 L784.2,216.3 M-25.4,519.7 L-16.5,506.0 M-2.3,517.4 L6.2,503.5 M20.6,514.5 L28.7,500.4 M43.3,511.0 L51.2,496.8 M66.0,507.2 L73.6,492.8 M88.5,503.0 L95.8,488.6 M110.8,498.5 L118.0,484.0 M133.1,493.7 L140.2,479.2 M155.4,488.8 L162.3,474.2 M177.5,483.7 L184.3,469.1 M199.6,478.4 L206.3,463.7 M221.6,472.9 L228.3,458.3 M243.6,467.3 L250.2,452.7 M265.6,461.6 L272.0,446.9 M287.5,455.7 L293.9,441.0 M309.4,449.7 L315.7,435.0 M331.3,443.6 L337.5,428.8 M353.1,437.2 L359.2,422.5 M374.9,430.8 L380.9,416.0 M396.7,424.1 L402.5,409.3 M418.3,417.3 L424.1,402.4 M440.0,410.2 L445.6,395.4 M461.6,403.0 L467.0,388.1 M483.1,395.6 L488.4,380.6 M504.5,387.9 L509.7,372.9 M525.9,380.1 L531.0,365.1 M547.2,372.0 L552.1,357.0 M568.4,363.8 L573.2,348.7 M589.6,355.3 L594.2,340.2 M610.6,346.6 L615.1,331.5 M631.5,337.8 L636.0,322.7 M652.4,328.9 L656.7,313.7 M673.2,319.8 L677.4,304.7 M693.9,310.6 L698.1,295.5 M714.6,301.4 L718.7,286.3 M735.2,292.1 L739.3,277.0 M755.7,282.9 L759.9,267.8 M776.2,273.7 L780.4,258.7 M796.8,264.7 L800.8,249.9" fill="none" stroke="#6c6c6c" stroke-width="3.31" stroke-opacity="1.00" stroke-linecap="round" filter="url(#blur4_c1)"/><path d="M-24.4,537.7 L-13.1,531.5 M-0.8,535.3 L10.3,528.8 M22.6,532.3 L33.4,525.5 M45.7,528.8 L56.3,521.8 M68.6,524.8 L79.1,517.7 M91.4,520.6 L101.7,513.3 M114.0,516.0 L124.2,508.7 M136.4,511.2 L146.5,503.8 M158.8,506.2 L168.8,498.7 M181.1,501.0 L191.0,493.4 M203.3,495.6 L213.2,488.0 M225.5,490.1 L235.3,482.5 M247.6,484.5 L257.3,476.8 M269.6,478.7 L279.4,470.9 M291.7,472.8 L301.3,464.9 M313.7,466.7 L323.3,458.8 M335.6,460.5 L345.2,452.5 M357.6,454.1 L367.1,446.1 M379.5,447.6 L389.0,439.5 M401.3,440.9 L410.8,432.7 M423.2,434.0 L432.5,425.7 M445.0,426.9 L454.3,418.5 M466.7,419.6 L475.9,411.2 M488.4,412.0 L497.5,403.6 M510.0,404.3 L519.0,395.7 M531.5,396.4 L540.5,387.7 M552.9,388.2 L561.8,379.5 M574.3,379.9 L583.1,371.1 M595.5,371.3 L604.3,362.5 M616.7,362.6 L625.4,353.7 M637.8,353.7 L646.3,344.7 M658.7,344.7 L667.2,335.7 M679.6,335.5 L688.0,326.5 M700.4,326.3 L708.8,317.2 M721.1,317.0 L729.4,308.0 M741.7,307.7 L750.0,298.7 M762.2,298.5 L770.5,289.5 M782.6,289.3 L790.9,280.4 M803.0,280.3 L810.2,271.9" fill="none" stroke="#6c6c6c" stroke-width="3.31" stroke-opacity="0.30" stroke-linecap="round" filter="url(#blur4_c1)"/></g>
<path d="M328.0,378.6 C322.5,398 331,440 356.7,458.3 L443.3,430.8 C418,412 400,378 416.3,351.6 Z" fill="#fff" stroke="#595757" stroke-width="1.45" stroke-linejoin="round"/>
<path d="M328.0,378.6 C319.5,372.2 311.9,361.3 308.5,348.6 L316.5,353.5 L317.3,346.0 L326.0,351.8 L327.6,341.8 L336.3,347.3 L338.1,338.6 L347.7,343.5 L349.6,334.5 L359.0,340.2 L361.2,330.5 L369.9,335.9 L371.7,327.2 L380.2,332.1 L383.2,322.3 L390.5,328.3 L393.7,319.1 C397.5,332.1 406.2,344 416.3,351.6 Z" fill="#fff" stroke="#595757" stroke-width="1.45" stroke-linejoin="miter"/>
<g stroke="#231815" stroke-width="2.2" fill="none"><path d="M414.0,319.2 L766.7,177.5"/><path d="M410.0,311.8 L417.8,326.8"/><path d="M763.2,170.0 L770.4,185.0"/></g>
<path d="M238.5,165 C292,178 342,240 322.7,311" fill="none" stroke="#231815" stroke-width="1.5"/>
<path d="M308.8,294.2 L322.5,312.5 L335,293.8" fill="none" stroke="#231815" stroke-width="1.8" stroke-linejoin="miter"/>
<g aria-label="4 cm" transform="translate(530,239.2) rotate(-21)" fill="none" stroke="#231815" stroke-width="3.4" stroke-linejoin="miter" stroke-miterlimit="10"><path d="M0,0.3 L0,-38.8 L-18.9,-12.2 L7.4,-12.2"/><path d="M58.5,-26.1 A15,15 0 1 0 58.5,-7.7"/><path d="M72.9,0.3 L72.9,-32.6 M72.9,-21 A11.2,11.6 0 0 1 95.3,-21 L95.3,0.3 M95.3,-21 A11.2,11.6 0 0 1 117.7,-21 L117.7,0.3"/></g>
<path d="M86,161 C79,155 75,146 69.1,130.8 L64.6,139 L60.3,130.3 L56.1,139 L52.1,130.3 L47.9,139 L43.8,130.8 C46,146 52,158 60,163.5 C64,166 69,166.3 74,166.3 L100.7,167.0" fill="#fff" stroke="#231815" stroke-width="2.8" stroke-linejoin="round" stroke-linecap="round"/><path d="M175,66.8 L137.3,66.8 C122,68 108,84 99.5,105 C94,120 93.5,135 92.6,146 C91.5,153 88,158 83.5,161.5 L80.5,167.6 L101.5,168.4 C108,164 116,155 120.5,143 L150,130 L175,80 Z" fill="#231815"/><path d="M100.7,167.2 C108,180 122,186.9 137.3,188.5 L150,189.5 L172.3,190.9" fill="none" stroke="#231815" stroke-width="3.1"/><ellipse cx="172.3" cy="129.3" rx="49.4" ry="61.5" transform="rotate(1 172.3 129.3)" fill="#fff" stroke="#231815" stroke-width="3.2"/><ellipse cx="171.1" cy="130.0" rx="23.1" ry="26.9" transform="rotate(1 171.1 130)" fill="#fff" stroke="#231815" stroke-width="1.8"/>
<circle cx="1114.3" cy="89.4" r="29.4" fill="#000"/>
<path transform="translate(1114.3,89.4)" d="M-5.5,-14.5 L3.6,-14.5 L3.6,11.6 L-2.2,11.6 L-2.2,-9.4 L-7.5,-9.4 Z" fill="#fff"/>
<circle cx="86.5" cy="687.9" r="29.4" fill="#000"/>
<path transform="translate(86.5,687.9)" d="M-6.7,-5.6 A6.2,6.2 0 1 1 4.3,-2.0 L-5.2,8.9 L8.6,8.9" fill="none" stroke="#fff" stroke-width="5.3" stroke-linejoin="miter" stroke-miterlimit="3"/>
<rect x="0" y="598.4" width="1200" height="3.2" fill="#b3b3b3"/>
<clipPath id="c2right"><path d="M964.2,1007.8 C971,1040 958,1080 929.6,1102.4 L929.6,1250 L1300,1250 L1300,900 L964.2,900 Z"/></clipPath>
<filter id="blur_c2" x="-5%" y="-20%" width="110%" height="140%"><feGaussianBlur stdDeviation="4.7"/></filter><filter id="blur2_c2" x="-5%" y="-20%" width="110%" height="140%"><feGaussianBlur stdDeviation="1.84"/></filter><filter id="blur3_c2" x="-5%" y="-20%" width="110%" height="140%"><feGaussianBlur stdDeviation="0.68"/></filter><filter id="blur4_c2" x="-5%" y="-20%" width="110%" height="140%"><feGaussianBlur stdDeviation="0.89"/></filter><clipPath id="clip_c2"><path d="M942.6,1001.3 L945.1,1001.9 L947.7,1002.5 L950.2,1003.1 L952.7,1003.8 L955.3,1004.4 L957.8,1005.0 L960.3,1005.6 L962.8,1006.2 L965.4,1006.8 L967.9,1007.4 L970.4,1008.0 L973.0,1008.6 L975.5,1009.2 L978.0,1009.8 L980.5,1010.4 L983.1,1011.0 L985.6,1011.6 L988.1,1012.2 L990.7,1012.8 L993.2,1013.4 L995.8,1013.9 L998.3,1014.5 L1000.8,1015.1 L1003.4,1015.7 L1005.9,1016.2 L1008.4,1016.8 L1011.0,1017.4 L1013.5,1017.9 L1016.1,1018.5 L1018.6,1019.0 L1021.1,1019.6 L1023.7,1020.1 L1026.2,1020.7 L1028.8,1021.2 L1031.3,1021.8 L1033.8,1022.3 L1036.4,1022.9 L1038.9,1023.4 L1041.5,1023.9 L1044.0,1024.5 L1046.6,1025.0 L1049.1,1025.5 L1051.7,1026.1 L1054.2,1026.6 L1056.8,1027.1 L1059.3,1027.6 L1061.9,1028.1 L1064.4,1028.6 L1066.9,1029.2 L1069.5,1029.7 L1072.1,1030.2 L1074.6,1030.7 L1077.2,1031.2 L1079.7,1031.7 L1082.3,1032.2 L1084.8,1032.6 L1087.4,1033.1 L1089.9,1033.6 L1092.5,1034.1 L1095.0,1034.6 L1097.6,1035.1 L1100.1,1035.5 L1102.7,1036.0 L1105.2,1036.5 L1107.8,1037.0 L1110.4,1037.4 L1112.9,1037.9 L1115.5,1038.4 L1118.0,1038.8 L1120.6,1039.3 L1123.2,1039.7 L1125.7,1040.2 L1128.3,1040.6 L1130.8,1041.1 L1133.4,1041.5 L1136.0,1042.0 L1138.5,1042.4 L1141.1,1042.8 L1143.6,1043.3 L1146.2,1043.7 L1148.8,1044.1 L1151.3,1044.6 L1153.9,1045.0 L1156.5,1045.4 L1159.0,1045.8 L1161.6,1046.2 L1164.2,1046.6 L1166.7,1047.1 L1169.3,1047.5 L1171.9,1047.9 L1174.4,1048.3 L1177.0,1048.7 L1179.6,1049.1 L1182.1,1049.5 L1184.7,1049.9 L1187.3,1050.3 L1189.8,1050.6 L1192.4,1051.0 L1195.0,1051.4 L1197.6,1051.8 L1200.1,1052.2 L1202.7,1052.5 L1205.3,1052.9 L1207.8,1053.3 L1210.4,1053.6 L1213.0,1054.0 L1215.6,1054.4 L1218.1,1054.7 L1220.7,1055.1 L1223.3,1055.4 L1225.9,1055.8 L1228.4,1056.1 L1231.0,1056.5 L1233.6,1056.8 L1236.2,1057.2 L1238.7,1057.5 L1241.3,1057.8 L1243.9,1058.2 L1246.5,1058.5 L1233.5,1161.7 L1230.8,1161.4 L1228.2,1161.0 L1225.5,1160.7 L1222.8,1160.4 L1220.1,1160.0 L1217.4,1159.7 L1214.8,1159.3 L1212.1,1159.0 L1209.4,1158.6 L1206.7,1158.3 L1204.0,1157.9 L1201.4,1157.5 L1198.7,1157.2 L1196.0,1156.8 L1193.3,1156.4 L1190.6,1156.1 L1188.0,1155.7 L1185.3,1155.3 L1182.6,1154.9 L1179.9,1154.5 L1177.3,1154.2 L1174.6,1153.8 L1171.9,1153.4 L1169.2,1153.0 L1166.6,1152.6 L1163.9,1152.2 L1161.2,1151.8 L1158.5,1151.4 L1155.9,1151.0 L1153.2,1150.6 L1150.5,1150.2 L1147.8,1149.7 L1145.2,1149.3 L1142.5,1148.9 L1139.8,1148.5 L1137.2,1148.1 L1134.5,1147.6 L1131.8,1147.2 L1129.2,1146.8 L1126.5,1146.3 L1123.8,1145.9 L1121.2,1145.4 L1118.5,1145.0 L1115.8,1144.5 L1113.2,1144.1 L1110.5,1143.6 L1107.8,1143.2 L1105.2,1142.7 L1102.5,1142.3 L1099.8,1141.8 L1097.2,1141.3 L1094.5,1140.9 L1091.9,1140.4 L1089.2,1139.9 L1086.5,1139.5 L1083.9,1139.0 L1081.2,1138.5 L1078.6,1138.0 L1075.9,1137.5 L1073.2,1137.0 L1070.6,1136.5 L1067.9,1136.0 L1065.3,1135.5 L1062.6,1135.0 L1059.9,1134.5 L1057.3,1134.0 L1054.6,1133.5 L1052.0,1133.0 L1049.3,1132.5 L1046.7,1132.0 L1044.0,1131.5 L1041.4,1131.0 L1038.7,1130.4 L1036.1,1129.9 L1033.4,1129.4 L1030.8,1128.8 L1028.1,1128.3 L1025.5,1127.8 L1022.8,1127.2 L1020.2,1126.7 L1017.5,1126.1 L1014.9,1125.6 L1012.2,1125.1 L1009.6,1124.5 L1006.9,1123.9 L1004.3,1123.4 L1001.7,1122.8 L999.0,1122.3 L996.4,1121.7 L993.7,1121.1 L991.1,1120.6 L988.5,1120.0 L985.8,1119.4 L983.2,1118.8 L980.5,1118.3 L977.9,1117.7 L975.3,1117.1 L972.6,1116.5 L970.0,1115.9 L967.3,1115.3 L964.7,1114.7 L962.1,1114.1 L959.4,1113.5 L956.8,1112.9 L954.2,1112.3 L951.5,1111.7 L948.9,1111.1 L946.3,1110.5 L943.6,1109.9 L941.0,1109.3 L938.4,1108.6 L935.8,1108.0 L933.1,1107.4 L930.5,1106.8 L927.9,1106.1 L925.3,1105.5 L922.6,1104.9 L920.0,1104.2 L917.4,1103.6Z"/></clipPath><g clip-path="url(#c2right)"><g clip-path="url(#clip_c2)"><path d="M942.6,1001.3 L945.1,1001.9 L947.7,1002.5 L950.2,1003.1 L952.7,1003.8 L955.3,1004.4 L957.8,1005.0 L960.3,1005.6 L962.8,1006.2 L965.4,1006.8 L967.9,1007.4 L970.4,1008.0 L973.0,1008.6 L975.5,1009.2 L978.0,1009.8 L980.5,1010.4 L983.1,1011.0 L985.6,1011.6 L988.1,1012.2 L990.7,1012.8 L993.2,1013.4 L995.8,1013.9 L998.3,1014.5 L1000.8,1015.1 L1003.4,1015.7 L1005.9,1016.2 L1008.4,1016.8 L1011.0,1017.4 L1013.5,1017.9 L1016.1,1018.5 L1018.6,1019.0 L1021.1,1019.6 L1023.7,1020.1 L1026.2,1020.7 L1028.8,1021.2 L1031.3,1021.8 L1033.8,1022.3 L1036.4,1022.9 L1038.9,1023.4 L1041.5,1023.9 L1044.0,1024.5 L1046.6,1025.0 L1049.1,1025.5 L1051.7,1026.1 L1054.2,1026.6 L1056.8,1027.1 L1059.3,1027.6 L1061.9,1028.1 L1064.4,1028.6 L1066.9,1029.2 L1069.5,1029.7 L1072.1,1030.2 L1074.6,1030.7 L1077.2,1031.2 L1079.7,1031.7 L1082.3,1032.2 L1084.8,1032.6 L1087.4,1033.1 L1089.9,1033.6 L1092.5,1034.1 L1095.0,1034.6 L1097.6,1035.1 L1100.1,1035.5 L1102.7,1036.0 L1105.2,1036.5 L1107.8,1037.0 L1110.4,1037.4 L1112.9,1037.9 L1115.5,1038.4 L1118.0,1038.8 L1120.6,1039.3 L1123.2,1039.7 L1125.7,1040.2 L1128.3,1040.6 L1130.8,1041.1 L1133.4,1041.5 L1136.0,1042.0 L1138.5,1042.4 L1141.1,1042.8 L1143.6,1043.3 L1146.2,1043.7 L1148.8,1044.1 L1151.3,1044.6 L1153.9,1045.0 L1156.5,1045.4 L1159.0,1045.8 L1161.6,1046.2 L1164.2,1046.6 L1166.7,1047.1 L1169.3,1047.5 L1171.9,1047.9 L1174.4,1048.3 L1177.0,1048.7 L1179.6,1049.1 L1182.1,1049.5 L1184.7,1049.9 L1187.3,1050.3 L1189.8,1050.6 L1192.4,1051.0 L1195.0,1051.4 L1197.6,1051.8 L1200.1,1052.2 L1202.7,1052.5 L1205.3,1052.9 L1207.8,1053.3 L1210.4,1053.6 L1213.0,1054.0 L1215.6,1054.4 L1218.1,1054.7 L1220.7,1055.1 L1223.3,1055.4 L1225.9,1055.8 L1228.4,1056.1 L1231.0,1056.5 L1233.6,1056.8 L1236.2,1057.2 L1238.7,1057.5 L1241.3,1057.8 L1243.9,1058.2 L1246.5,1058.5 L1233.5,1161.7 L1230.8,1161.4 L1228.2,1161.0 L1225.5,1160.7 L1222.8,1160.4 L1220.1,1160.0 L1217.4,1159.7 L1214.8,1159.3 L1212.1,1159.0 L1209.4,1158.6 L1206.7,1158.3 L1204.0,1157.9 L1201.4,1157.5 L1198.7,1157.2 L1196.0,1156.8 L1193.3,1156.4 L1190.6,1156.1 L1188.0,1155.7 L1185.3,1155.3 L1182.6,1154.9 L1179.9,1154.5 L1177.3,1154.2 L1174.6,1153.8 L1171.9,1153.4 L1169.2,1153.0 L1166.6,1152.6 L1163.9,1152.2 L1161.2,1151.8 L1158.5,1151.4 L1155.9,1151.0 L1153.2,1150.6 L1150.5,1150.2 L1147.8,1149.7 L1145.2,1149.3 L1142.5,1148.9 L1139.8,1148.5 L1137.2,1148.1 L1134.5,1147.6 L1131.8,1147.2 L1129.2,1146.8 L1126.5,1146.3 L1123.8,1145.9 L1121.2,1145.4 L1118.5,1145.0 L1115.8,1144.5 L1113.2,1144.1 L1110.5,1143.6 L1107.8,1143.2 L1105.2,1142.7 L1102.5,1142.3 L1099.8,1141.8 L1097.2,1141.3 L1094.5,1140.9 L1091.9,1140.4 L1089.2,1139.9 L1086.5,1139.5 L1083.9,1139.0 L1081.2,1138.5 L1078.6,1138.0 L1075.9,1137.5 L1073.2,1137.0 L1070.6,1136.5 L1067.9,1136.0 L1065.3,1135.5 L1062.6,1135.0 L1059.9,1134.5 L1057.3,1134.0 L1054.6,1133.5 L1052.0,1133.0 L1049.3,1132.5 L1046.7,1132.0 L1044.0,1131.5 L1041.4,1131.0 L1038.7,1130.4 L1036.1,1129.9 L1033.4,1129.4 L1030.8,1128.8 L1028.1,1128.3 L1025.5,1127.8 L1022.8,1127.2 L1020.2,1126.7 L1017.5,1126.1 L1014.9,1125.6 L1012.2,1125.1 L1009.6,1124.5 L1006.9,1123.9 L1004.3,1123.4 L1001.7,1122.8 L999.0,1122.3 L996.4,1121.7 L993.7,1121.1 L991.1,1120.6 L988.5,1120.0 L985.8,1119.4 L983.2,1118.8 L980.5,1118.3 L977.9,1117.7 L975.3,1117.1 L972.6,1116.5 L970.0,1115.9 L967.3,1115.3 L964.7,1114.7 L962.1,1114.1 L959.4,1113.5 L956.8,1112.9 L954.2,1112.3 L951.5,1111.7 L948.9,1111.1 L946.3,1110.5 L943.6,1109.9 L941.0,1109.3 L938.4,1108.6 L935.8,1108.0 L933.1,1107.4 L930.5,1106.8 L927.9,1106.1 L925.3,1105.5 L922.6,1104.9 L920.0,1104.2 L917.4,1103.6Z" fill="#acacac"/><path d="M927.1,1043.6 L929.7,1044.2 L932.3,1044.8 L934.9,1045.5 L937.5,1046.1 L940.1,1046.8 L942.7,1047.4 L945.3,1048.0 L947.9,1048.7 L950.5,1049.3 L953.1,1049.9 L955.8,1050.5 L958.4,1051.2 L961.0,1051.8 L963.6,1052.4 L966.2,1053.0 L968.8,1053.6 L971.4,1054.2 L974.1,1054.8 L976.7,1055.4 L979.3,1056.0 L981.9,1056.6 L984.5,1057.2 L987.2,1057.8 L989.8,1058.4 L992.4,1059.0 L995.0,1059.6 L997.6,1060.1 L1000.3,1060.7 L1002.9,1061.3 L1005.5,1061.9 L1008.1,1062.4 L1010.8,1063.0 L1013.4,1063.6 L1016.0,1064.1 L1018.6,1064.7 L1021.3,1065.3 L1023.9,1065.8 L1026.5,1066.4 L1029.1,1066.9 L1031.8,1067.5 L1034.4,1068.0 L1037.0,1068.6 L1039.7,1069.1 L1042.3,1069.6 L1044.9,1070.2 L1047.6,1070.7 L1050.2,1071.2 L1052.8,1071.8 L1055.5,1072.3 L1058.1,1072.8 L1060.7,1073.3 L1063.4,1073.8 L1066.0,1074.4 L1068.6,1074.9 L1071.3,1075.4 L1073.9,1075.9 L1076.5,1076.4 L1079.2,1076.9 L1081.8,1077.4 L1084.5,1077.9 L1087.1,1078.4 L1089.7,1078.9 L1092.4,1079.4 L1095.0,1079.8 L1097.7,1080.3 L1100.3,1080.8 L1103.0,1081.3 L1105.6,1081.8 L1108.2,1082.2 L1110.9,1082.7 L1113.5,1083.2 L1116.2,1083.6 L1118.8,1084.1 L1121.5,1084.5 L1124.1,1085.0 L1126.8,1085.4 L1129.4,1085.9 L1132.1,1086.3 L1134.7,1086.8 L1137.3,1087.2 L1140.0,1087.7 L1142.6,1088.1 L1145.3,1088.5 L1147.9,1089.0 L1150.6,1089.4 L1153.3,1089.8 L1155.9,1090.3 L1158.6,1090.7 L1161.2,1091.1 L1163.9,1091.5 L1166.5,1091.9 L1169.2,1092.3 L1171.8,1092.7 L1174.5,1093.1 L1177.1,1093.5 L1179.8,1093.9 L1182.4,1094.3 L1185.1,1094.7 L1187.8,1095.1 L1190.4,1095.5 L1193.1,1095.9 L1195.7,1096.3 L1198.4,1096.7 L1201.0,1097.0 L1203.7,1097.4 L1206.4,1097.8 L1209.0,1098.2 L1211.7,1098.5 L1214.3,1098.9 L1217.0,1099.2 L1219.7,1099.6 L1222.3,1100.0 L1225.0,1100.3 L1227.7,1100.7 L1230.3,1101.0 L1233.0,1101.4 L1235.6,1101.7 L1238.3,1102.0 L1241.0,1102.4" fill="none" stroke="#b6b6b6" stroke-width="42.0" stroke-opacity="0.90" filter="url(#blur_c2)"/><path d="M927.9,1040.0 L930.5,1040.6 L933.2,1041.3 L935.8,1041.9 L938.4,1042.5 L941.0,1043.2 L943.6,1043.8 L946.2,1044.4 L948.8,1045.1 L951.4,1045.7 L954.0,1046.3 L956.6,1047.0 L959.2,1047.6 L961.8,1048.2 L964.4,1048.8 L967.1,1049.4 L969.7,1050.0 L972.3,1050.6 L974.9,1051.2 L977.5,1051.8 L980.1,1052.4 L982.7,1053.0 L985.3,1053.6 L988.0,1054.2 L990.6,1054.8 L993.2,1055.4 L995.8,1056.0 L998.4,1056.6 L1001.1,1057.1 L1003.7,1057.7 L1006.3,1058.3 L1008.9,1058.9 L1011.5,1059.4 L1014.2,1060.0 L1016.8,1060.6 L1019.4,1061.1 L1022.0,1061.7 L1024.6,1062.2 L1027.3,1062.8 L1029.9,1063.3 L1032.5,1063.9 L1035.1,1064.4 L1037.8,1065.0 L1040.4,1065.5 L1043.0,1066.0 L1045.7,1066.6 L1048.3,1067.1 L1050.9,1067.6 L1053.5,1068.2 L1056.2,1068.7 L1058.8,1069.2 L1061.4,1069.7 L1064.1,1070.2 L1066.7,1070.8 L1069.3,1071.3 L1072.0,1071.8 L1074.6,1072.3 L1077.2,1072.8 L1079.9,1073.3 L1082.5,1073.8 L1085.1,1074.3 L1087.8,1074.8 L1090.4,1075.3 L1093.0,1075.8 L1095.7,1076.2 L1098.3,1076.7 L1101.0,1077.2 L1103.6,1077.7 L1106.2,1078.1 L1108.9,1078.6 L1111.5,1079.1 L1114.2,1079.6 L1116.8,1080.0 L1119.4,1080.5 L1122.1,1080.9 L1124.7,1081.4 L1127.4,1081.8 L1130.0,1082.3 L1132.7,1082.7 L1135.3,1083.2 L1137.9,1083.6 L1140.6,1084.1 L1143.2,1084.5 L1145.9,1084.9 L1148.5,1085.4 L1151.2,1085.8 L1153.8,1086.2 L1156.5,1086.6 L1159.1,1087.1 L1161.8,1087.5 L1164.4,1087.9 L1167.1,1088.3 L1169.7,1088.7 L1172.4,1089.1 L1175.0,1089.5 L1177.7,1089.9 L1180.3,1090.3 L1183.0,1090.7 L1185.6,1091.1 L1188.3,1091.5 L1190.9,1091.9 L1193.6,1092.3 L1196.2,1092.7 L1198.9,1093.0 L1201.6,1093.4 L1204.2,1093.8 L1206.9,1094.2 L1209.5,1094.5 L1212.2,1094.9 L1214.8,1095.3 L1217.5,1095.6 L1220.2,1096.0 L1222.8,1096.3 L1225.5,1096.7 L1228.1,1097.0 L1230.8,1097.4 L1233.4,1097.7 L1236.1,1098.1 L1238.8,1098.4 L1241.4,1098.8" fill="none" stroke="#c0c0c0" stroke-width="16.8" stroke-opacity="0.75" filter="url(#blur_c2)"/><path d="M915.0,1092.1 L917.6,1092.8 L920.3,1093.4 L922.9,1094.1 L925.6,1094.7 L928.3,1095.4 L930.9,1096.0 L933.6,1096.7 L936.2,1097.3 L938.9,1097.9 L941.5,1098.6 L944.2,1099.2 L946.9,1099.8 L949.5,1100.4 L952.2,1101.1 L954.9,1101.7 L957.5,1102.3 L960.2,1102.9 L962.9,1103.5 L965.5,1104.1 L968.2,1104.7 L970.9,1105.3 L973.5,1105.9 L976.2,1106.5 L978.9,1107.1 L981.5,1107.7 L984.2,1108.3 L986.9,1108.9 L989.5,1109.5 L992.2,1110.1 L994.9,1110.6 L997.6,1111.2 L1000.2,1111.8 L1002.9,1112.4 L1005.6,1112.9 L1008.3,1113.5 L1010.9,1114.1 L1013.6,1114.6 L1016.3,1115.2 L1019.0,1115.7 L1021.6,1116.3 L1024.3,1116.8 L1027.0,1117.4 L1029.7,1117.9 L1032.4,1118.5 L1035.0,1119.0 L1037.7,1119.5 L1040.4,1120.1 L1043.1,1120.6 L1045.8,1121.1 L1048.5,1121.7 L1051.1,1122.2 L1053.8,1122.7 L1056.5,1123.2 L1059.2,1123.7 L1061.9,1124.2 L1064.6,1124.8 L1067.3,1125.3 L1070.0,1125.8 L1072.6,1126.3 L1075.3,1126.8 L1078.0,1127.3 L1080.7,1127.8 L1083.4,1128.3 L1086.1,1128.7 L1088.8,1129.2 L1091.5,1129.7 L1094.2,1130.2 L1096.9,1130.7 L1099.6,1131.1 L1102.3,1131.6 L1104.9,1132.1 L1107.6,1132.5 L1110.3,1133.0 L1113.0,1133.5 L1115.7,1133.9 L1118.4,1134.4 L1121.1,1134.8 L1123.8,1135.3 L1126.5,1135.7 L1129.2,1136.2 L1131.9,1136.6 L1134.6,1137.1 L1137.3,1137.5 L1140.0,1137.9 L1142.7,1138.4 L1145.4,1138.8 L1148.1,1139.2 L1150.8,1139.6 L1153.5,1140.1 L1156.2,1140.5 L1158.9,1140.9 L1161.6,1141.3 L1164.4,1141.7 L1167.1,1142.1 L1169.8,1142.5 L1172.5,1142.9 L1175.2,1143.3 L1177.9,1143.7 L1180.6,1144.1 L1183.3,1144.5 L1186.0,1144.9 L1188.7,1145.3 L1191.4,1145.7 L1194.1,1146.0 L1196.8,1146.4 L1199.6,1146.8 L1202.3,1147.2 L1205.0,1147.5 L1207.7,1147.9 L1210.4,1148.3 L1213.1,1148.6 L1215.8,1149.0 L1218.5,1149.3 L1221.3,1149.7 L1224.0,1150.0 L1226.7,1150.4 L1229.4,1150.7 L1232.1,1151.0 L1234.8,1151.4" fill="none" stroke="#a8a8a8" stroke-width="21.0" stroke-opacity="0.90" filter="url(#blur_c2)"/><path d="M938.0,999.6 L940.6,1000.2 L943.1,1000.8 L945.7,1001.5 L948.2,1002.1 L950.8,1002.7 L953.4,1003.4 L955.9,1004.0 L958.5,1004.6 L961.1,1005.3 L963.6,1005.9 L966.2,1006.5 L968.8,1007.1 L971.4,1007.7 L973.9,1008.3 L976.5,1008.9 L979.1,1009.5 L981.6,1010.1 L984.2,1010.7 L986.8,1011.3 L989.4,1011.9 L991.9,1012.5 L994.5,1013.1 L997.1,1013.7 L999.7,1014.3 L1002.2,1014.9 L1004.8,1015.4 L1007.4,1016.0 L1010.0,1016.6 L1012.5,1017.2 L1015.1,1017.7 L1017.7,1018.3 L1020.3,1018.9 L1022.9,1019.4 L1025.4,1020.0 L1028.0,1020.5 L1030.6,1021.1 L1033.2,1021.7 L1035.8,1022.2 L1038.4,1022.7 L1040.9,1023.3 L1043.5,1023.8 L1046.1,1024.4 L1048.7,1024.9 L1051.3,1025.4 L1053.9,1026.0 L1056.5,1026.5 L1059.0,1027.0 L1061.6,1027.6 L1064.2,1028.1 L1066.8,1028.6 L1069.4,1029.1 L1072.0,1029.6 L1074.6,1030.1 L1077.2,1030.6 L1079.8,1031.1 L1082.4,1031.6 L1085.0,1032.1 L1087.5,1032.6 L1090.1,1033.1 L1092.7,1033.6 L1095.3,1034.1 L1097.9,1034.6 L1100.5,1035.1 L1103.1,1035.6 L1105.7,1036.0 L1108.3,1036.5 L1110.9,1037.0 L1113.5,1037.5 L1116.1,1037.9 L1118.7,1038.4 L1121.3,1038.9 L1123.9,1039.3 L1126.5,1039.8 L1129.1,1040.2 L1131.7,1040.7 L1134.3,1041.1 L1136.9,1041.6 L1139.5,1042.0 L1142.1,1042.5 L1144.7,1042.9 L1147.3,1043.4 L1149.9,1043.8 L1152.5,1044.2 L1155.1,1044.7 L1157.7,1045.1 L1160.3,1045.5 L1162.9,1045.9 L1165.5,1046.3 L1168.2,1046.8 L1170.8,1047.2 L1173.4,1047.6 L1176.0,1048.0 L1178.6,1048.4 L1181.2,1048.8 L1183.8,1049.2 L1186.4,1049.6 L1189.0,1050.0 L1191.6,1050.4 L1194.2,1050.8 L1196.9,1051.2 L1199.5,1051.5 L1202.1,1051.9 L1204.7,1052.3 L1207.3,1052.7 L1209.9,1053.1 L1212.5,1053.4 L1215.1,1053.8 L1217.8,1054.2 L1220.4,1054.5 L1223.0,1054.9 L1225.6,1055.2 L1228.2,1055.6 L1230.8,1055.9 L1233.4,1056.3 L1236.1,1056.6 L1238.7,1057.0 L1241.3,1057.3 L1243.9,1057.7 L1246.5,1058.0" fill="none" stroke="#8a8a8a" stroke-width="4.7" stroke-opacity="0.90" filter="url(#blur_c2)"/><path d="M912.0,1103.9 L914.7,1104.6 L917.4,1105.2 L920.0,1105.9 L922.7,1106.5 L925.4,1107.2 L928.1,1107.8 L930.7,1108.4 L933.4,1109.1 L936.1,1109.7 L938.7,1110.3 L941.4,1111.0 L944.1,1111.6 L946.8,1112.2 L949.4,1112.8 L952.1,1113.5 L954.8,1114.1 L957.5,1114.7 L960.1,1115.3 L962.8,1115.9 L965.5,1116.5 L968.2,1117.1 L970.9,1117.7 L973.5,1118.3 L976.2,1118.9 L978.9,1119.5 L981.6,1120.1 L984.3,1120.7 L986.9,1121.3 L989.6,1121.9 L992.3,1122.4 L995.0,1123.0 L997.7,1123.6 L1000.4,1124.2 L1003.1,1124.7 L1005.7,1125.3 L1008.4,1125.9 L1011.1,1126.4 L1013.8,1127.0 L1016.5,1127.5 L1019.2,1128.1 L1021.9,1128.6 L1024.6,1129.2 L1027.3,1129.7 L1030.0,1130.3 L1032.7,1130.8 L1035.3,1131.4 L1038.0,1131.9 L1040.7,1132.4 L1043.4,1133.0 L1046.1,1133.5 L1048.8,1134.0 L1051.5,1134.5 L1054.2,1135.0 L1056.9,1135.6 L1059.6,1136.1 L1062.3,1136.6 L1065.0,1137.1 L1067.7,1137.6 L1070.4,1138.1 L1073.1,1138.6 L1075.8,1139.1 L1078.5,1139.6 L1081.2,1140.1 L1083.9,1140.6 L1086.6,1141.1 L1089.3,1141.5 L1092.0,1142.0 L1094.7,1142.5 L1097.5,1143.0 L1100.2,1143.5 L1102.9,1143.9 L1105.6,1144.4 L1108.3,1144.9 L1111.0,1145.3 L1113.7,1145.8 L1116.4,1146.2 L1119.1,1146.7 L1121.8,1147.1 L1124.5,1147.6 L1127.3,1148.0 L1130.0,1148.5 L1132.7,1148.9 L1135.4,1149.4 L1138.1,1149.8 L1140.8,1150.2 L1143.5,1150.6 L1146.2,1151.1 L1149.0,1151.5 L1151.7,1151.9 L1154.4,1152.3 L1157.1,1152.8 L1159.8,1153.2 L1162.5,1153.6 L1165.3,1154.0 L1168.0,1154.4 L1170.7,1154.8 L1173.4,1155.2 L1176.1,1155.6 L1178.9,1156.0 L1181.6,1156.4 L1184.3,1156.8 L1187.0,1157.1 L1189.7,1157.5 L1192.5,1157.9 L1195.2,1158.3 L1197.9,1158.6 L1200.6,1159.0 L1203.4,1159.4 L1206.1,1159.8 L1208.8,1160.1 L1211.5,1160.5 L1214.3,1160.8 L1217.0,1161.2 L1219.7,1161.5 L1222.4,1161.9 L1225.2,1162.2 L1227.9,1162.6 L1230.6,1162.9 L1233.3,1163.3" fill="none" stroke="#8a8a8a" stroke-width="3.7" stroke-opacity="0.90" filter="url(#blur_c2)"/><path d="M928.7,1068.1 L942.6,1091.8 M956.7,1074.8 L970.8,1098.3 M984.7,1081.2 L999.0,1104.5 M1012.8,1087.3 L1027.4,1110.5 M1040.9,1093.2 L1055.8,1116.1 M1069.1,1098.7 L1084.2,1121.5 M1097.4,1103.9 L1112.8,1126.5 M1125.7,1108.9 L1141.3,1131.3 M1154.1,1113.5 L1169.9,1135.7 M1182.5,1117.8 L1198.6,1139.8 M1211.0,1121.8 L1227.3,1143.6" fill="none" stroke="#9b9b9b" stroke-width="1.57" stroke-opacity="1.00" stroke-linecap="round" filter="url(#blur4_c2)"/><path d="M899.9,1088.8 L932.6,1083.2 M928.1,1095.8 L960.7,1089.9 M956.3,1102.4 L988.9,1096.2 M984.6,1108.8 L1017.2,1102.3 M1013.0,1114.9 L1045.5,1108.0 M1041.5,1120.7 L1073.8,1113.5 M1070.0,1126.2 L1102.3,1118.7 M1098.5,1131.4 L1130.8,1123.5 M1127.2,1136.3 L1159.3,1128.1 M1155.8,1140.8 L1187.9,1132.3 M1184.6,1145.1 L1216.5,1136.2 M1213.3,1149.1 L1236.4,1138.8" fill="none" stroke="#9b9b9b" stroke-width="1.57" stroke-opacity="0.30" stroke-linecap="round" filter="url(#blur4_c2)"/><path d="M954.7,1013.5 L965.5,1024.2 M982.1,1020.0 L993.0,1030.6 M1009.5,1026.2 L1020.5,1036.7 M1037.0,1032.1 L1048.1,1042.5 M1064.6,1037.8 L1075.8,1048.0 M1092.2,1043.1 L1103.5,1053.2 M1119.8,1048.2 L1131.3,1058.1 M1147.6,1052.9 L1159.1,1062.7 M1175.3,1057.4 L1187.0,1067.1 M1203.1,1061.6 L1214.9,1071.1 M1231.0,1065.4 L1242.8,1074.8 M922.6,1051.7 L931.6,1067.5 M950.3,1058.4 L959.6,1074.1 M978.2,1064.9 L987.6,1080.5 M1006.1,1071.1 L1015.7,1086.6 M1034.1,1077.1 L1043.8,1092.4 M1062.1,1082.7 L1072.0,1097.9 M1090.2,1088.0 L1100.3,1103.1 M1118.4,1093.0 L1128.6,1108.0 M1146.6,1097.7 L1157.0,1112.6 M1174.8,1102.2 L1185.4,1116.9 M1203.1,1106.3 L1213.8,1120.9 M1231.5,1110.1 L1238.3,1124.0" fill="none" stroke="#868686" stroke-width="6.82" stroke-opacity="1.00" stroke-linecap="round" filter="url(#blur2_c2)"/><path d="M933.5,1019.6 L950.2,1015.6 M961.0,1026.3 L977.6,1022.2 M988.5,1032.8 L1005.1,1028.4 M1016.0,1038.9 L1032.6,1034.4 M1043.7,1044.8 L1060.2,1040.1 M1071.4,1050.3 L1087.8,1045.5 M1099.1,1055.6 L1115.5,1050.6 M1126.9,1060.6 L1143.2,1055.4 M1154.8,1065.2 L1171.0,1059.9 M1182.7,1069.6 L1198.8,1064.1 M1210.6,1073.7 L1226.7,1068.0 M1238.6,1077.4 L1245.0,1070.4 M927.0,1069.6 L945.8,1060.6 M955.0,1076.3 L973.6,1067.1 M983.0,1082.7 L1001.6,1073.4 M1011.2,1088.9 L1029.6,1079.3 M1039.3,1094.7 L1057.6,1085.0 M1067.5,1100.3 L1085.8,1090.4 M1095.8,1105.5 L1113.9,1095.4 M1124.2,1110.5 L1142.2,1100.2 M1152.6,1115.1 L1170.5,1104.7 M1181.0,1119.4 L1198.8,1108.8 M1209.5,1123.4 L1227.2,1112.7" fill="none" stroke="#868686" stroke-width="6.82" stroke-opacity="0.55" stroke-linecap="round" filter="url(#blur2_c2)"/><path d="M930.4,1097.0 L943.1,1106.5 M958.6,1103.6 L971.4,1113.0 M987.0,1110.0 L999.8,1119.2 M1015.4,1116.1 L1028.3,1125.1 M1043.8,1121.8 L1056.9,1130.8 M1072.4,1127.3 L1085.5,1136.1 M1100.9,1132.4 L1114.2,1141.1 M1129.6,1137.3 L1142.9,1145.8 M1158.3,1141.8 L1171.7,1150.2 M1187.0,1146.1 L1200.5,1154.3 M1215.8,1150.0 L1229.4,1158.0" fill="none" stroke="#868686" stroke-width="6.82" stroke-opacity="0.30" stroke-linecap="round" filter="url(#blur2_c2)"/><path d="M910.1,1101.8 L925.8,1099.1 M938.4,1108.6 L954.0,1105.8 M966.8,1115.2 L982.4,1112.2 M995.3,1121.5 L1010.8,1118.3 M1023.8,1127.4 L1039.3,1124.1 M1052.4,1133.1 L1067.8,1129.6 M1081.0,1138.5 L1096.4,1134.8 M1109.7,1143.5 L1125.1,1139.7 M1138.5,1148.3 L1153.8,1144.3 M1167.3,1152.7 L1182.6,1148.6 M1196.1,1156.8 L1211.4,1152.6 M1225.0,1160.6 L1234.3,1155.5" fill="none" stroke="#868686" stroke-width="6.82" stroke-opacity="0.17" stroke-linecap="round" filter="url(#blur2_c2)"/><path d="M946.8,1011.5 L957.5,1022.3 M974.2,1018.1 L985.0,1028.7 M1001.6,1024.4 L1012.5,1034.9 M1029.1,1030.4 L1040.1,1040.8 M1056.6,1036.2 L1067.8,1046.4 M1084.2,1041.6 L1095.5,1051.7 M1111.8,1046.7 L1123.2,1056.7 M1139.5,1051.6 L1151.0,1061.4 M1167.3,1056.1 L1178.9,1065.9 M1195.1,1060.4 L1206.8,1070.0 M1222.9,1064.3 L1234.7,1073.8 M942.3,1056.5 L951.5,1072.2 M970.1,1063.1 L979.5,1078.7 M998.0,1069.4 L1007.6,1084.9 M1026.0,1075.4 L1035.7,1090.8 M1054.0,1081.1 L1063.9,1096.4 M1082.1,1086.5 L1092.1,1101.6 M1110.2,1091.6 L1120.4,1106.6 M1138.4,1096.4 L1148.8,1111.3 M1166.6,1100.9 L1177.2,1115.7 M1194.9,1105.1 L1205.6,1119.8 M1223.3,1109.0 L1234.1,1123.5" fill="none" stroke="#c6c6c6" stroke-width="4.46" stroke-opacity="0.80" stroke-linecap="round" filter="url(#blur2_c2)"/><path d="M922.2,1095.0 L934.9,1104.6 M950.5,1101.7 L963.2,1111.2 M978.8,1108.2 L991.6,1117.5 M1007.2,1114.3 L1020.1,1123.5 M1035.6,1120.2 L1048.6,1129.2 M1064.1,1125.7 L1077.2,1134.6 M1092.7,1131.0 L1105.9,1139.7 M1121.3,1135.9 L1134.6,1144.5 M1150.0,1140.6 L1163.4,1149.0 M1178.7,1144.9 L1192.2,1153.1 M1207.5,1148.9 L1221.1,1157.0" fill="none" stroke="#c6c6c6" stroke-width="4.46" stroke-opacity="0.24" stroke-linecap="round" filter="url(#blur2_c2)"/><path d="M935.9,1018.2 L955.8,1038.1 M963.3,1024.9 L983.5,1044.6 M990.8,1031.3 L1011.2,1050.7 M1018.4,1037.4 L1038.9,1056.6 M1046.0,1043.2 L1066.7,1062.2 M1073.7,1048.8 L1094.6,1067.5 M1101.4,1054.0 L1122.6,1072.5 M1129.2,1059.0 L1150.5,1077.2 M1157.0,1063.6 L1178.6,1081.6 M1184.9,1067.9 L1206.6,1085.7 M1212.8,1072.0 L1234.7,1089.5 M1240.8,1075.7 L1242.5,1090.5 M920.6,1049.8 L948.6,1036.4 M948.4,1056.6 L976.2,1042.9 M976.2,1063.1 L1003.9,1049.1 M1004.1,1069.4 L1031.6,1055.1 M1032.1,1075.3 L1059.4,1060.8 M1060.1,1080.9 L1087.3,1066.2 M1088.2,1086.3 L1115.2,1071.2 M1116.3,1091.3 L1143.1,1076.0 M1144.5,1096.1 L1171.2,1080.5 M1172.7,1100.5 L1199.2,1084.7 M1201.0,1104.7 L1227.3,1088.5 M1229.3,1108.5 L1242.5,1090.5" fill="none" stroke="#cdcdcd" stroke-width="1.68" stroke-opacity="1.00" stroke-linecap="round" filter="url(#blur4_c2)"/><path d="M934.3,1016.6 L950.9,1012.5 M961.7,1023.3 L978.3,1019.1 M989.2,1029.7 L1005.7,1025.3 M1016.7,1035.8 L1033.2,1031.3 M1044.3,1041.7 L1060.8,1037.0 M1072.0,1047.2 L1088.4,1042.4 M1099.7,1052.5 L1116.0,1047.5 M1127.4,1057.5 L1143.7,1052.3 M1155.3,1062.1 L1171.5,1056.8 M1183.1,1066.5 L1199.3,1061.0 M1211.0,1070.6 L1227.1,1064.9 M1239.0,1074.3 L1245.4,1067.3 M927.8,1066.5 L946.5,1057.5 M955.7,1073.2 L974.3,1064.1 M983.7,1079.7 L1002.3,1070.3 M1011.8,1085.8 L1030.2,1076.3 M1039.9,1091.6 L1058.3,1081.9 M1068.1,1097.2 L1086.3,1087.3 M1096.4,1102.4 L1114.5,1092.3 M1124.7,1107.4 L1142.7,1097.1 M1153.1,1112.0 L1170.9,1101.6 M1181.5,1116.3 L1199.2,1105.7 M1209.9,1120.3 L1227.6,1109.6" fill="none" stroke="#808080" stroke-width="2.88" stroke-opacity="1.00" stroke-linecap="round" filter="url(#blur4_c2)"/><path d="M910.9,1098.7 L926.5,1096.0 M939.2,1105.6 L954.8,1102.7 M967.5,1112.1 L983.1,1109.1 M995.9,1118.4 L1011.5,1115.2 M1024.4,1124.3 L1039.9,1121.0 M1053.0,1130.0 L1068.4,1126.5 M1081.6,1135.4 L1097.0,1131.8 M1110.2,1140.4 L1125.6,1136.6 M1139.0,1145.2 L1154.3,1141.2 M1167.7,1149.6 L1183.0,1145.5 M1196.6,1153.7 L1211.8,1149.5 M1225.4,1157.5 L1234.7,1152.4" fill="none" stroke="#808080" stroke-width="2.88" stroke-opacity="0.30" stroke-linecap="round" filter="url(#blur4_c2)"/><path d="M950.9,1012.5 L961.7,1023.3 M978.3,1019.1 L989.2,1029.7 M1005.7,1025.3 L1016.7,1035.8 M1033.2,1031.3 L1044.3,1041.7 M1060.8,1037.0 L1072.0,1047.2 M1088.4,1042.4 L1099.7,1052.5 M1116.0,1047.5 L1127.4,1057.5 M1143.7,1052.3 L1155.3,1062.1 M1171.5,1056.8 L1183.1,1066.5 M1199.3,1061.0 L1211.0,1070.6 M1227.1,1064.9 L1239.0,1074.3 M918.7,1050.7 L927.8,1066.5 M946.5,1057.5 L955.7,1073.2 M974.3,1064.1 L983.7,1079.7 M1002.3,1070.3 L1011.8,1085.8 M1030.2,1076.3 L1039.9,1091.6 M1058.3,1081.9 L1068.1,1097.2 M1086.3,1087.3 L1096.4,1102.4 M1114.5,1092.3 L1124.7,1107.4 M1142.7,1097.1 L1153.1,1112.0 M1170.9,1101.6 L1181.5,1116.3 M1199.2,1105.7 L1209.9,1120.3 M1227.6,1109.6 L1238.3,1124.0" fill="none" stroke="#6c6c6c" stroke-width="4.20" stroke-opacity="1.00" stroke-linecap="round" filter="url(#blur4_c2)"/><path d="M926.5,1096.0 L939.2,1105.6 M954.8,1102.7 L967.5,1112.1 M983.1,1109.1 L995.9,1118.4 M1011.5,1115.2 L1024.4,1124.3 M1039.9,1121.0 L1053.0,1130.0 M1068.4,1126.5 L1081.6,1135.4 M1097.0,1131.8 L1110.2,1140.4 M1125.6,1136.6 L1139.0,1145.2 M1154.3,1141.2 L1167.7,1149.6 M1183.0,1145.5 L1196.6,1153.7 M1211.8,1149.5 L1225.4,1157.5" fill="none" stroke="#6c6c6c" stroke-width="4.20" stroke-opacity="0.30" stroke-linecap="round" filter="url(#blur4_c2)"/></g></g>
<path d="M858.8,978.2 L964.2,1007.8 C971,1040 958,1080 929.6,1102.4 L840.6,1082.6 Z" fill="#fff" stroke="none"/>
<path d="M858.8,978.2 L964.2,1007.8 C971,1040 958,1080 929.6,1102.4 L840.6,1082.6" fill="none" stroke="#5f5d5d" stroke-width="1.75"/>
<ellipse cx="849.7" cy="1031.0" rx="41.5" ry="52.9" transform="rotate(15 849.7 1031.0)" fill="#fff" stroke="#5f5d5d" stroke-width="1.75"/>
<path d="M890.9,1033.5 L893.7,1038.1 L900.1,1030.2 L907.4,1040.5 L915.7,1032.6 L922.1,1043.6 L931.3,1034.4 L935.8,1044.9 L945.9,1037.2 L951.4,1046.7 L961.5,1039.0 L963.3,1048.2" fill="none" stroke="#5f5d5d" stroke-width="1.7"/>
<path d="M385.3,903.7 L392.3,905.4 L399.4,907.2 L406.5,909.0 L413.7,910.8 L421.0,912.6 L428.3,914.4 L435.7,916.3 L443.1,918.1 L450.6,920.0 L458.2,921.9 L465.8,923.8 L473.4,925.7 L481.1,927.6 L488.8,929.5 L496.5,931.4 L504.3,933.3 L512.1,935.3 L519.9,937.2 L527.8,939.2 L535.7,941.1 L543.6,943.1 L551.5,945.0 L559.4,947.0 L567.4,948.9 L575.3,950.9 L583.3,952.9 L591.2,954.8 L599.2,956.8 L607.2,958.7 L615.1,960.7 L623.1,962.6 L631.0,964.6 L638.9,966.5 L646.8,968.4 L654.7,970.3 L662.5,972.2 L670.4,974.2 L678.2,976.0 L686.0,977.9 L693.7,979.8 L701.4,981.7 L709.1,983.5 L716.7,985.3 L724.3,987.2 L731.8,989.0 L739.3,990.8 L746.7,992.5 L754.1,994.3 L761.4,996.0 L768.7,997.8 L775.8,999.5 L783.0,1001.2 L790.0,1002.8 L797.0,1004.5 L803.9,1006.1 L810.7,1007.7 L817.5,1009.3 L824.1,1010.8 L830.7,1012.4 L826.3,1031.2 L819.7,1029.7 L813.0,1028.1 L806.3,1026.4 L799.5,1024.8 L792.6,1023.1 L785.6,1021.4 L778.5,1019.7 L771.4,1018.0 L764.2,1016.2 L757.0,1014.4 L749.7,1012.7 L742.3,1010.8 L734.9,1009.0 L727.4,1007.2 L719.9,1005.3 L712.3,1003.5 L704.7,1001.6 L697.0,999.7 L689.3,997.8 L681.6,995.8 L673.8,993.9 L666.0,992.0 L658.2,990.0 L650.3,988.1 L642.4,986.1 L634.5,984.1 L626.6,982.1 L618.7,980.2 L610.8,978.2 L602.8,976.2 L594.9,974.2 L586.9,972.2 L579.0,970.2 L571.0,968.2 L563.1,966.2 L555.2,964.2 L547.2,962.2 L539.3,960.1 L531.4,958.1 L523.5,956.2 L515.7,954.2 L507.9,952.2 L500.1,950.2 L492.3,948.2 L484.6,946.2 L476.9,944.3 L469.2,942.3 L461.6,940.4 L454.0,938.4 L446.5,936.5 L439.0,934.6 L431.5,932.7 L424.2,930.8 L416.9,928.9 L409.6,927.0 L402.4,925.2 L395.3,923.4 L388.2,921.5 L381.3,919.7Z" fill="#ffee12"/><circle cx="383.3" cy="911.7" r="8.30" fill="#ffee12"/><circle cx="828.5" cy="1021.8" r="9.70" fill="#ffee12"/>
<path d="M386.9,908.8 L393.7,910.5 L400.7,912.3 L407.7,914.1 L414.8,915.9 L421.9,917.7 L429.1,919.5 L436.4,921.3 L443.7,923.2 L451.1,925.0 L458.6,926.9 L466.1,928.8 L473.6,930.7 L481.2,932.6 L488.8,934.5 L496.5,936.4 L504.2,938.3 L512.0,940.3 L519.8,942.2 L527.6,944.2 L535.4,946.1 L543.3,948.1 L551.2,950.1 L559.1,952.0 L567.0,954.0 L575.0,956.0 L582.9,957.9 L590.9,959.9 L598.9,961.9 L606.8,963.8 L614.8,965.8 L622.8,967.8 L630.7,969.7 L638.7,971.7 L646.7,973.6 L654.6,975.6 L662.5,977.5 L670.4,979.4 L678.3,981.4 L686.1,983.3 L694.0,985.2 L701.8,987.1 L709.5,989.0 L717.3,990.8 L724.9,992.7 L732.6,994.6 L740.2,996.4 L747.8,998.2 L755.3,1000.0 L762.8,1001.8 L770.2,1003.6 L777.5,1005.3 L784.8,1007.1 L792.0,1008.8 L799.2,1010.5 L806.3,1012.2 L813.3,1013.9 L820.3,1015.5 L827.2,1017.1 L834.0,1018.7 L832.3,1025.9 L825.5,1024.3 L818.6,1022.7 L811.7,1021.0 L804.6,1019.3 L797.5,1017.6 L790.4,1015.9 L783.1,1014.1 L775.8,1012.4 L768.5,1010.6 L761.1,1008.8 L753.6,1007.0 L746.1,1005.1 L738.5,1003.3 L730.9,1001.4 L723.3,999.6 L715.6,997.7 L707.9,995.8 L700.1,993.9 L692.3,991.9 L684.5,990.0 L676.6,988.1 L668.8,986.1 L660.9,984.2 L652.9,982.2 L645.0,980.2 L637.1,978.3 L629.1,976.3 L621.2,974.3 L613.2,972.3 L605.2,970.3 L597.3,968.3 L589.3,966.3 L581.3,964.3 L573.4,962.4 L565.5,960.4 L557.5,958.4 L549.6,956.4 L541.7,954.4 L533.9,952.4 L526.0,950.4 L518.2,948.5 L510.4,946.5 L502.7,944.5 L495.0,942.6 L487.3,940.6 L479.7,938.7 L472.1,936.8 L464.5,934.9 L457.0,932.9 L449.6,931.0 L442.2,929.2 L434.9,927.3 L427.6,925.4 L420.4,923.6 L413.3,921.8 L406.2,920.0 L399.2,918.2 L392.3,916.4 L385.4,914.6Z" fill="#8cbf26"/><circle cx="386.1" cy="911.7" r="3.00" fill="#8cbf26"/><circle cx="833.1" cy="1022.3" r="3.70" fill="#8cbf26"/>
<ellipse cx="383.3" cy="911.7" rx="4.2" ry="5.9" transform="rotate(12 383.3 911.7)" fill="#b9671f"/>
<path d="M510.7,892.8 L515.5,895.3 L520.2,897.8 L525.1,900.3 L530.0,902.7 L535.1,905.1 L540.1,907.5 L545.3,909.9 L550.5,912.2 L555.8,914.5 L561.2,916.8 L566.6,919.0 L572.1,921.3 L577.7,923.5 L583.3,925.7 L589.0,927.8 L594.7,930.0 L600.5,932.1 L606.3,934.2 L612.2,936.3 L618.1,938.3 L624.1,940.4 L630.1,942.4 L636.2,944.4 L642.3,946.3 L648.4,948.3 L654.6,950.2 L660.8,952.1 L667.1,954.0 L673.3,955.9 L679.6,957.7 L686.0,959.6 L692.3,961.4 L698.7,963.2 L705.1,964.9 L711.6,966.7 L718.0,968.5 L724.5,970.2 L731.0,971.9 L737.5,973.6 L744.0,975.3 L750.5,976.9 L757.0,978.6 L763.5,980.2 L770.1,981.8 L776.6,983.4 L783.1,985.0 L789.7,986.6 L796.2,988.1 L802.7,989.7 L809.3,991.2 L815.8,992.7 L822.3,994.3 L828.8,995.8 L835.3,997.2 L841.7,998.7 L848.2,1000.2 L854.6,1001.6 L861.0,1003.1 L867.4,1004.5 L863.4,1022.1 L857.0,1020.6 L850.6,1019.2 L844.2,1017.7 L837.7,1016.2 L831.2,1014.7 L824.7,1013.2 L818.2,1011.7 L811.7,1010.1 L805.2,1008.6 L798.6,1007.0 L792.1,1005.5 L785.5,1003.9 L778.9,1002.3 L772.4,1000.7 L765.8,999.0 L759.2,997.4 L752.7,995.7 L746.1,994.1 L739.5,992.4 L733.0,990.7 L726.5,988.9 L719.9,987.2 L713.4,985.5 L706.9,983.7 L700.4,981.9 L694.0,980.1 L687.5,978.2 L681.1,976.4 L674.7,974.5 L668.4,972.6 L662.0,970.7 L655.7,968.8 L649.4,966.9 L643.2,964.9 L637.0,962.9 L630.8,960.9 L624.6,958.9 L618.5,956.8 L612.5,954.7 L606.4,952.6 L600.5,950.5 L594.6,948.3 L588.7,946.2 L582.8,944.0 L577.1,941.8 L571.4,939.5 L565.7,937.2 L560.1,934.9 L554.5,932.6 L549.0,930.2 L543.6,927.9 L538.2,925.5 L532.9,923.0 L527.7,920.6 L522.6,918.1 L517.5,915.5 L512.5,913.0 L507.5,910.4 L502.7,907.8Z" fill="#84501f"/><circle cx="506.7" cy="900.3" r="8.50" fill="#84501f"/><circle cx="865.4" cy="1013.3" r="9.00" fill="#84501f"/>
<ellipse cx="504.6" cy="899.8" rx="4.6" ry="6.3" transform="rotate(12 504.6 899.8)" fill="#c8761e"/>
<path d="M448.4,961.6 L454.1,961.6 L460.0,961.7 L466.0,961.9 L472.1,962.2 L478.2,962.5 L484.4,962.9 L490.7,963.4 L497.0,963.9 L503.4,964.5 L509.8,965.1 L516.3,965.9 L522.9,966.6 L529.5,967.5 L536.1,968.3 L542.8,969.3 L549.6,970.3 L556.4,971.3 L563.3,972.4 L570.1,973.6 L577.1,974.7 L584.0,976.0 L591.0,977.2 L598.1,978.5 L605.1,979.9 L612.2,981.3 L619.3,982.7 L626.5,984.1 L633.6,985.6 L640.8,987.1 L648.0,988.6 L655.2,990.2 L662.5,991.8 L669.7,993.4 L677.0,995.0 L684.2,996.6 L691.5,998.3 L698.7,1000.0 L706.0,1001.7 L713.3,1003.4 L720.5,1005.1 L727.8,1006.8 L735.0,1008.5 L742.2,1010.2 L749.4,1012.0 L756.6,1013.7 L763.8,1015.4 L771.0,1017.2 L778.1,1018.9 L785.2,1020.6 L792.3,1022.3 L799.4,1024.0 L806.4,1025.7 L813.4,1027.4 L820.4,1029.1 L827.3,1030.7 L834.2,1032.4 L841.0,1034.0 L847.8,1035.6 L854.6,1037.1 L850.4,1054.7 L843.7,1053.1 L836.9,1051.4 L830.0,1049.8 L823.1,1048.2 L816.2,1046.5 L809.2,1044.8 L802.2,1043.1 L795.2,1041.4 L788.1,1039.6 L781.0,1037.9 L773.9,1036.2 L766.8,1034.4 L759.6,1032.7 L752.5,1030.9 L745.3,1029.2 L738.1,1027.4 L730.9,1025.7 L723.7,1023.9 L716.4,1022.2 L709.2,1020.5 L702.0,1018.8 L694.7,1017.1 L687.5,1015.4 L680.3,1013.7 L673.1,1012.1 L665.9,1010.4 L658.7,1008.8 L651.5,1007.2 L644.4,1005.6 L637.2,1004.1 L630.1,1002.6 L623.0,1001.1 L615.9,999.7 L608.9,998.2 L601.8,996.8 L594.9,995.5 L587.9,994.2 L581.0,992.9 L574.1,991.7 L567.3,990.5 L560.5,989.4 L553.7,988.3 L547.0,987.2 L540.4,986.2 L533.8,985.3 L527.3,984.4 L520.8,983.5 L514.3,982.8 L508.0,982.0 L501.7,981.4 L495.5,980.8 L489.3,980.2 L483.2,979.8 L477.2,979.4 L471.2,979.0 L465.4,978.8 L459.6,978.6 L453.9,978.4 L448.2,978.4Z" fill="#0a8cdb"/><circle cx="448.3" cy="970.0" r="8.40" fill="#0a8cdb"/><circle cx="852.5" cy="1045.9" r="9.00" fill="#0a8cdb"/>
<ellipse cx="448.0" cy="970" rx="4.2" ry="5.6" transform="rotate(8 448 970)" fill="#c8761e"/>
<path d="M772.8,789.2 C852,797 901,858 896.6,945.5" fill="none" stroke="#231815" stroke-width="1.5"/>
<path d="M877.3,927.4 L896.6,946.3 L909.4,922.4" fill="none" stroke="#231815" stroke-width="1.9" stroke-linejoin="miter"/>
<defs><linearGradient id="tg1" x1="0" y1="0" x2="0.3" y2="1"><stop offset="0" stop-color="#f9d78e"/><stop offset="1" stop-color="#f1bb5e"/></linearGradient><linearGradient id="tg2" x1="0" y1="0" x2="0" y2="1"><stop offset="0" stop-color="#f6cd7c"/><stop offset="1" stop-color="#eeb556"/></linearGradient><linearGradient id="tg3" x1="0" y1="0" x2="1" y2="1"><stop offset="0" stop-color="#f3c068"/><stop offset="1" stop-color="#e09a3c"/></linearGradient><radialGradient id="tg4" cx="0.5" cy="0.3" r="0.7"><stop offset="0" stop-color="#f0b55a"/><stop offset="1" stop-color="#dd9336"/></radialGradient><filter id="tblur"><feGaussianBlur stdDeviation="3"/></filter><filter id="tblur1"><feGaussianBlur stdDeviation="1.5"/></filter></defs><g transform="translate(500,660) scale(0.23333)"><path d="M175,315 C240,312 285,345 300,372 L342,380 L352,338 L382,335 L392,400 L640,500 L700,470 L960,470 C1015,495 1048,545 1040,600 L1012,655 L935,742 L857,714 L741,671 L600,622 L458,590 L313,569 C270,568 235,567 200,565 C110,565 62,505 65,440 C68,370 115,318 175,315 Z" fill="url(#tg2)"/><ellipse cx="176" cy="468" rx="98" ry="88" fill="url(#tg4)"/><ellipse cx="190" cy="447" rx="77" ry="41" transform="rotate(-4 190 447)" fill="#fff"/><path d="M80,400 C100,345 160,325 215,335" fill="none" stroke="#f9dc98" stroke-width="14" stroke-linecap="round" filter="url(#tblur)" opacity="0.9"/><path d="M200,565 C235,567 270,568 313,569 L458,590 L600,622 L741,671 L857,714 L935,742 L950,722 L857,694 L741,651 L600,602 L458,572 L313,552 Z" fill="#e7a94b" opacity="0.7" filter="url(#tblur1)"/><path d="M458,556 L636,574 L634,600 L456,580 Z" fill="#f2c06a" stroke="#e9ae52" stroke-width="2"/><path d="M392,405 L500,415 L560,400 L620,430 L660,500 L640,520 L560,520 L392,470 Z" fill="#dda549"/><path d="M395,408 L500,418 L505,440 L392,432 Z" fill="#2b2115"/><path d="M380,448 L490,462 L488,484 L378,468 Z" fill="#2b2115"/><path d="M300,425 L380,432 L378,448 L298,442 Z" fill="#6d4a1c"/><path d="M500,420 L540,425 L560,455 L600,450 L610,500 L560,520 L500,500 Z" fill="#c48a34"/><path d="M548,412 L600,432 L612,452 L590,450 Z" fill="#1d1a18"/><path d="M600,432 C625,428 640,450 636,475 L650,505 L622,515 L612,480 Z" fill="#2a2623"/><ellipse cx="736" cy="543" rx="70" ry="58" fill="#f6ca76" stroke="#e09f42" stroke-width="5"/><ellipse cx="735" cy="542" rx="56" ry="46" fill="none" stroke="#eeb75e" stroke-width="3"/><ellipse cx="730" cy="540" rx="24" ry="21" fill="#4a4845"/><ellipse cx="727" cy="537" rx="12" ry="9" fill="#8d8f92"/><path d="M808,568 L856,574 L892,612 L835,636 Z" fill="#d48a2c"/><path d="M818,580 L852,585 L874,610 L838,624 Z" fill="#b9701f"/><path d="M888,612 L1000,650 L985,700 L945,738 L850,695 Z" fill="#2d2b2a"/><path d="M925,625 C925,650 960,662 972,640 Z" fill="#111"/><path d="M880,690 L940,718 L930,742 L868,712 Z" fill="#e8a84a"/><path d="M905,700 C915,690 935,698 940,715 L925,735 L890,715 Z" fill="#2d2b2a"/><rect x="892" y="628" width="18" height="14" fill="#9a9a9a" transform="rotate(18 900 635)"/><rect x="965" y="655" width="14" height="12" fill="#9a9a9a" transform="rotate(18 972 661)"/><rect x="858" y="672" width="14" height="12" fill="#8a8a8a" transform="rotate(18 865 678)"/><path d="M238,114 C245,70 330,42 405,70 C430,80 450,98 470,123 L560,203 L700,310 L830,398 L905,438 L960,470 L905,520 L800,500 L700,470 L640,500 L600,432 L548,398 L434,320 C415,305 406,290 406,265 C406,230 398,205 380,192 C350,172 300,165 262,154 C245,147 236,132 238,114 Z" fill="url(#tg1)"/><path d="M470,125 L560,205 L700,312 L830,400 L960,470 L935,492 L800,425 L680,345 L540,240 L430,150 Z" fill="#f3c26a" opacity="0.9"/><path d="M250,100 C262,72 330,55 400,78 C425,88 445,105 462,125 L430,150 C400,130 330,118 268,135 C255,128 248,115 250,100 Z" fill="#f6cc7a"/><path d="M300.0,64.0 L305.0,122.0 M310.5,64.0 L315.5,122.0 M321.0,64.0 L326.0,122.0 M331.5,64.0 L336.5,122.0 M342.0,64.0 L347.0,122.0 M352.5,64.0 L357.5,122.0 M363.0,64.0 L368.0,122.0 M373.5,64.0 L378.5,122.0 M384.0,66.0 L389.0,124.0 M394.5,70.5 L399.5,128.5 M405.0,75.0 L410.0,133.0 M415.5,79.5 L420.5,137.5 M426.0,84.0 L431.0,142.0 M436.5,88.5 L441.5,146.5 M447.0,93.0 L452.0,151.0 M457.5,97.5 L462.5,155.5" stroke="#e9b258" stroke-width="3.5" fill="none" opacity="0.6"/><path d="M262,150 C300,160 350,168 380,188 C398,203 406,230 406,265" fill="none" stroke="#dd9a3e" stroke-width="8" filter="url(#tblur1)" opacity="0.8"/><path d="M412,270 L440,312 L560,400 L640,445" fill="none" stroke="#fae0a6" stroke-width="5" opacity="0.9"/><ellipse cx="537" cy="352" rx="21" ry="17" fill="#8e9093" transform="rotate(-15 537 352)"/><ellipse cx="535" cy="349" rx="12" ry="9" fill="#c9cbcd" transform="rotate(-15 535 349)"/><path d="M524,352 L548,346 M533,340 L540,358" stroke="#6b6d70" stroke-width="3"/><circle cx="649" cy="423" r="6" fill="#e3a344"/><circle cx="330" cy="517" r="11" fill="#f0bb60" stroke="#e7ab50" stroke-width="2"/><path d="M960,470 C1015,495 1048,545 1040,600 L1012,655 L990,640 C1010,590 1000,530 940,495 Z" fill="#f8d68c" opacity="0.9"/><path d="M800,500 L905,520 L975,560 L990,600 L880,575 L815,560 Z" fill="#f1bc60" opacity="0.8" filter="url(#tblur1)"/><ellipse cx="902" cy="478" rx="46" ry="30" fill="#2f2f30"/><path d="M856,460 L856,478 A46,30 0 0 0 948,478 L948,460 Z" fill="#3a3a3b"/><ellipse cx="902" cy="458" rx="46" ry="30" fill="#4c4c4e"/><ellipse cx="905" cy="458" rx="20" ry="13" fill="#1d1d1e"/></g></svg></body></html>
